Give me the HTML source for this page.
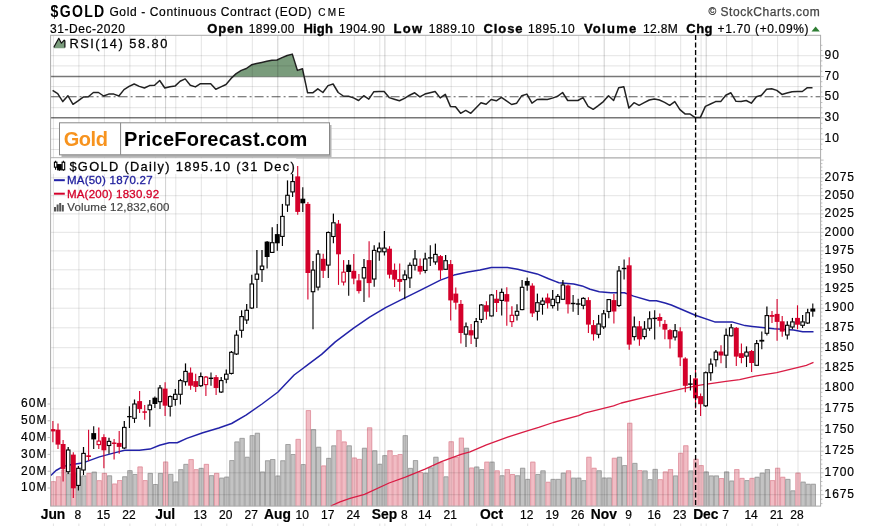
<!DOCTYPE html>
<html><head><meta charset="utf-8"><title>$GOLD</title>
<style>html,body{margin:0;padding:0;background:#fff;}body{width:875px;height:526px;overflow:hidden;position:relative;font-family:"Liberation Sans",sans-serif;}</style>
</head><body>
<svg width="875" height="526" viewBox="0 0 875 526" style="position:absolute;left:0;top:0;will-change:transform;font-family:'Liberation Sans',sans-serif">
<rect x="0" y="0" width="875" height="526" fill="#fff"/>
<defs><filter id="soft" x="-2%" y="-2%" width="104%" height="104%"><feGaussianBlur stdDeviation="0.38"/></filter></defs>
<g filter="url(#soft)">
<line x1="50.6" y1="76.6" x2="820.6" y2="76.6" stroke="#777" stroke-width="1.5"/>
<line x1="50.6" y1="117.8" x2="820.6" y2="117.8" stroke="#777" stroke-width="1.5"/>
<line x1="50.6" y1="96.7" x2="820.6" y2="96.7" stroke="#5a5a5a" stroke-width="1.1" stroke-dasharray="9,3,2,3"/>
<clipPath id="c70"><rect x="50.6" y="35.3" width="770.0" height="41.3"/></clipPath>
<polygon clip-path="url(#c70)" points="52.6,96.6 52.6,90.4 57.7,93.6 62.8,101.6 67.9,95.7 73.0,104.3 78.1,100.8 83.2,97.1 88.3,96.8 93.4,92.5 98.5,92.5 103.6,96.0 108.7,94.1 113.8,94.1 118.9,96.0 124.0,89.6 129.1,86.4 134.2,84.0 139.3,86.4 144.4,88.0 149.5,85.6 154.6,85.3 159.7,80.5 164.8,88.0 169.9,86.7 175.0,86.1 180.1,81.3 185.2,78.9 190.3,85.3 195.4,86.9 200.5,83.7 205.6,83.7 210.7,83.7 215.8,89.3 220.9,86.9 226.0,84.5 231.1,78.4 236.2,73.6 241.3,70.4 246.4,68.5 251.5,64.8 256.6,63.5 261.7,62.4 266.8,61.3 271.9,60.2 277.0,60.0 282.1,57.6 287.2,55.5 292.3,54.1 297.4,70.4 302.5,68.8 307.6,92.8 312.7,92.8 317.8,88.8 322.9,92.5 328.0,85.6 333.1,84.0 338.2,92.5 343.3,96.0 348.4,96.3 353.5,97.9 358.6,100.5 363.7,95.7 368.8,99.2 373.9,91.7 379.0,91.5 384.1,91.5 389.2,97.6 394.3,99.2 399.4,100.8 404.5,98.4 409.6,95.2 414.7,92.8 419.8,96.8 424.9,94.1 430.0,92.8 435.1,91.5 440.2,97.9 445.3,94.4 450.4,106.4 455.5,106.7 460.6,113.3 465.7,110.4 470.8,113.3 475.9,108.0 481.0,102.7 486.1,104.3 491.2,99.5 496.3,100.8 501.4,97.3 506.5,100.8 511.6,104.5 516.7,103.2 521.8,95.7 526.9,94.1 532.0,103.2 537.1,99.5 542.2,99.2 547.3,99.5 552.4,98.1 557.5,96.3 562.6,92.5 567.7,100.5 572.8,100.5 577.9,100.5 583.0,97.6 588.1,106.4 593.2,109.3 598.3,105.6 603.4,101.6 608.5,95.7 613.6,100.5 618.7,87.7 623.8,86.7 628.9,108.0 634.0,102.7 639.1,105.3 644.2,102.7 649.3,100.0 654.4,98.9 659.5,100.0 664.6,102.4 669.7,105.3 674.8,101.6 679.9,109.6 685.0,113.9 690.1,114.1 695.2,117.6 700.3,117.6 705.4,106.4 710.5,104.0 715.6,101.6 720.7,101.6 725.8,95.2 730.9,92.8 736.0,101.3 741.1,101.6 746.2,100.5 751.3,103.2 756.4,96.8 761.5,95.2 766.6,89.3 771.7,88.8 776.8,90.4 781.9,94.4 787.0,93.1 792.1,91.7 797.2,91.5 802.3,91.5 807.4,87.7 812.5,87.7 812.5,96.6" fill="#7a9c7c"/>
<polyline points="52.6,90.4 57.7,93.6 62.8,101.6 67.9,95.7 73.0,104.3 78.1,100.8 83.2,97.1 88.3,96.8 93.4,92.5 98.5,92.5 103.6,96.0 108.7,94.1 113.8,94.1 118.9,96.0 124.0,89.6 129.1,86.4 134.2,84.0 139.3,86.4 144.4,88.0 149.5,85.6 154.6,85.3 159.7,80.5 164.8,88.0 169.9,86.7 175.0,86.1 180.1,81.3 185.2,78.9 190.3,85.3 195.4,86.9 200.5,83.7 205.6,83.7 210.7,83.7 215.8,89.3 220.9,86.9 226.0,84.5 231.1,78.4 236.2,73.6 241.3,70.4 246.4,68.5 251.5,64.8 256.6,63.5 261.7,62.4 266.8,61.3 271.9,60.2 277.0,60.0 282.1,57.6 287.2,55.5 292.3,54.1 297.4,70.4 302.5,68.8 307.6,92.8 312.7,92.8 317.8,88.8 322.9,92.5 328.0,85.6 333.1,84.0 338.2,92.5 343.3,96.0 348.4,96.3 353.5,97.9 358.6,100.5 363.7,95.7 368.8,99.2 373.9,91.7 379.0,91.5 384.1,91.5 389.2,97.6 394.3,99.2 399.4,100.8 404.5,98.4 409.6,95.2 414.7,92.8 419.8,96.8 424.9,94.1 430.0,92.8 435.1,91.5 440.2,97.9 445.3,94.4 450.4,106.4 455.5,106.7 460.6,113.3 465.7,110.4 470.8,113.3 475.9,108.0 481.0,102.7 486.1,104.3 491.2,99.5 496.3,100.8 501.4,97.3 506.5,100.8 511.6,104.5 516.7,103.2 521.8,95.7 526.9,94.1 532.0,103.2 537.1,99.5 542.2,99.2 547.3,99.5 552.4,98.1 557.5,96.3 562.6,92.5 567.7,100.5 572.8,100.5 577.9,100.5 583.0,97.6 588.1,106.4 593.2,109.3 598.3,105.6 603.4,101.6 608.5,95.7 613.6,100.5 618.7,87.7 623.8,86.7 628.9,108.0 634.0,102.7 639.1,105.3 644.2,102.7 649.3,100.0 654.4,98.9 659.5,100.0 664.6,102.4 669.7,105.3 674.8,101.6 679.9,109.6 685.0,113.9 690.1,114.1 695.2,117.6 700.3,117.6 705.4,106.4 710.5,104.0 715.6,101.6 720.7,101.6 725.8,95.2 730.9,92.8 736.0,101.3 741.1,101.6 746.2,100.5 751.3,103.2 756.4,96.8 761.5,95.2 766.6,89.3 771.7,88.8 776.8,90.4 781.9,94.4 787.0,93.1 792.1,91.7 797.2,91.5 802.3,91.5 807.4,87.7 812.5,87.7" fill="none" stroke="#222" stroke-width="1.5" stroke-linejoin="round"/>
<g><rect x="50.85" y="481.2" width="5.10" height="24.9" fill="#f1bcc4"/><path d="M51.25,506.1 V481.7 H55.55 V506.1" fill="none" stroke="#e0939f" stroke-width="0.8"/><rect x="55.95" y="476.3" width="5.10" height="29.8" fill="#f1bcc4"/><path d="M56.35,506.1 V476.8 H60.65 V506.1" fill="none" stroke="#e0939f" stroke-width="0.8"/><rect x="61.05" y="469.5" width="5.10" height="36.6" fill="#f1bcc4"/><path d="M61.45,506.1 V470.0 H65.75 V506.1" fill="none" stroke="#e0939f" stroke-width="0.8"/><rect x="66.15" y="473.4" width="5.10" height="32.7" fill="#c3c3c3"/><path d="M66.55,506.1 V473.9 H70.85 V506.1" fill="none" stroke="#9a9a9a" stroke-width="0.8"/><rect x="71.25" y="472.5" width="5.10" height="33.6" fill="#f1bcc4"/><path d="M71.65,506.1 V473.0 H75.95 V506.1" fill="none" stroke="#e0939f" stroke-width="0.8"/><rect x="76.35" y="476.3" width="5.10" height="29.8" fill="#c3c3c3"/><path d="M76.75,506.1 V476.8 H81.05 V506.1" fill="none" stroke="#9a9a9a" stroke-width="0.8"/><rect x="81.45" y="475.5" width="5.10" height="30.6" fill="#c3c3c3"/><path d="M81.85,506.1 V476.0 H86.15 V506.1" fill="none" stroke="#9a9a9a" stroke-width="0.8"/><rect x="86.55" y="472.9" width="5.10" height="33.2" fill="#f1bcc4"/><path d="M86.95,506.1 V473.4 H91.25 V506.1" fill="none" stroke="#e0939f" stroke-width="0.8"/><rect x="91.65" y="471.7" width="5.10" height="34.4" fill="#c3c3c3"/><path d="M92.05,506.1 V472.2 H96.35 V506.1" fill="none" stroke="#9a9a9a" stroke-width="0.8"/><rect x="96.75" y="480.2" width="5.10" height="25.9" fill="#f1bcc4"/><path d="M97.15,506.1 V480.7 H101.45 V506.1" fill="none" stroke="#e0939f" stroke-width="0.8"/><rect x="101.85" y="472.9" width="5.10" height="33.2" fill="#f1bcc4"/><path d="M102.25,506.1 V473.4 H106.55 V506.1" fill="none" stroke="#e0939f" stroke-width="0.8"/><rect x="106.95" y="475.4" width="5.10" height="30.7" fill="#c3c3c3"/><path d="M107.35,506.1 V475.9 H111.65 V506.1" fill="none" stroke="#9a9a9a" stroke-width="0.8"/><rect x="112.05" y="483.6" width="5.10" height="22.5" fill="#f1bcc4"/><path d="M112.45,506.1 V484.1 H116.75 V506.1" fill="none" stroke="#e0939f" stroke-width="0.8"/><rect x="117.15" y="480.0" width="5.10" height="26.1" fill="#f1bcc4"/><path d="M117.55,506.1 V480.5 H121.85 V506.1" fill="none" stroke="#e0939f" stroke-width="0.8"/><rect x="122.25" y="476.3" width="5.10" height="29.8" fill="#c3c3c3"/><path d="M122.65,506.1 V476.8 H126.95 V506.1" fill="none" stroke="#9a9a9a" stroke-width="0.8"/><rect x="127.35" y="470.2" width="5.10" height="35.9" fill="#c3c3c3"/><path d="M127.75,506.1 V470.7 H132.05 V506.1" fill="none" stroke="#9a9a9a" stroke-width="0.8"/><rect x="132.45" y="474.0" width="5.10" height="32.1" fill="#c3c3c3"/><path d="M132.85,506.1 V474.5 H137.15 V506.1" fill="none" stroke="#9a9a9a" stroke-width="0.8"/><rect x="137.55" y="466.5" width="5.10" height="39.6" fill="#f1bcc4"/><path d="M137.95,506.1 V467.0 H142.25 V506.1" fill="none" stroke="#e0939f" stroke-width="0.8"/><rect x="142.65" y="480.1" width="5.10" height="26.0" fill="#f1bcc4"/><path d="M143.05,506.1 V480.6 H147.35 V506.1" fill="none" stroke="#e0939f" stroke-width="0.8"/><rect x="147.75" y="472.9" width="5.10" height="33.2" fill="#c3c3c3"/><path d="M148.15,506.1 V473.4 H152.45 V506.1" fill="none" stroke="#9a9a9a" stroke-width="0.8"/><rect x="152.85" y="484.0" width="5.10" height="22.1" fill="#c3c3c3"/><path d="M153.25,506.1 V484.5 H157.55 V506.1" fill="none" stroke="#9a9a9a" stroke-width="0.8"/><rect x="157.95" y="472.9" width="5.10" height="33.2" fill="#c3c3c3"/><path d="M158.35,506.1 V473.4 H162.65 V506.1" fill="none" stroke="#9a9a9a" stroke-width="0.8"/><rect x="163.05" y="461.6" width="5.10" height="44.5" fill="#f1bcc4"/><path d="M163.45,506.1 V462.1 H167.75 V506.1" fill="none" stroke="#e0939f" stroke-width="0.8"/><rect x="168.15" y="473.9" width="5.10" height="32.2" fill="#c3c3c3"/><path d="M168.55,506.1 V474.4 H172.85 V506.1" fill="none" stroke="#9a9a9a" stroke-width="0.8"/><rect x="173.25" y="481.5" width="5.10" height="24.6" fill="#c3c3c3"/><path d="M173.65,506.1 V482.0 H177.95 V506.1" fill="none" stroke="#9a9a9a" stroke-width="0.8"/><rect x="178.35" y="469.2" width="5.10" height="36.9" fill="#c3c3c3"/><path d="M178.75,506.1 V469.7 H183.05 V506.1" fill="none" stroke="#9a9a9a" stroke-width="0.8"/><rect x="183.45" y="463.9" width="5.10" height="42.2" fill="#c3c3c3"/><path d="M183.85,506.1 V464.4 H188.15 V506.1" fill="none" stroke="#9a9a9a" stroke-width="0.8"/><rect x="188.55" y="459.1" width="5.10" height="47.0" fill="#f1bcc4"/><path d="M188.95,506.1 V459.6 H193.25 V506.1" fill="none" stroke="#e0939f" stroke-width="0.8"/><rect x="193.65" y="469.2" width="5.10" height="36.9" fill="#f1bcc4"/><path d="M194.05,506.1 V469.7 H198.35 V506.1" fill="none" stroke="#e0939f" stroke-width="0.8"/><rect x="198.75" y="467.9" width="5.10" height="38.2" fill="#c3c3c3"/><path d="M199.15,506.1 V468.4 H203.45 V506.1" fill="none" stroke="#9a9a9a" stroke-width="0.8"/><rect x="203.85" y="463.9" width="5.10" height="42.2" fill="#f1bcc4"/><path d="M204.25,506.1 V464.4 H208.55 V506.1" fill="none" stroke="#e0939f" stroke-width="0.8"/><rect x="208.95" y="475.2" width="5.10" height="30.9" fill="#c3c3c3"/><path d="M209.35,506.1 V475.7 H213.65 V506.1" fill="none" stroke="#9a9a9a" stroke-width="0.8"/><rect x="214.05" y="472.9" width="5.10" height="33.2" fill="#f1bcc4"/><path d="M214.45,506.1 V473.4 H218.75 V506.1" fill="none" stroke="#e0939f" stroke-width="0.8"/><rect x="219.15" y="477.7" width="5.10" height="28.4" fill="#c3c3c3"/><path d="M219.55,506.1 V478.2 H223.85 V506.1" fill="none" stroke="#9a9a9a" stroke-width="0.8"/><rect x="224.25" y="476.7" width="5.10" height="29.4" fill="#c3c3c3"/><path d="M224.65,506.1 V477.2 H228.95 V506.1" fill="none" stroke="#9a9a9a" stroke-width="0.8"/><rect x="229.35" y="460.1" width="5.10" height="46.0" fill="#c3c3c3"/><path d="M229.75,506.1 V460.6 H234.05 V506.1" fill="none" stroke="#9a9a9a" stroke-width="0.8"/><rect x="234.45" y="441.5" width="5.10" height="64.6" fill="#c3c3c3"/><path d="M234.85,506.1 V442.0 H239.15 V506.1" fill="none" stroke="#9a9a9a" stroke-width="0.8"/><rect x="239.55" y="437.9" width="5.10" height="68.2" fill="#c3c3c3"/><path d="M239.95,506.1 V438.4 H244.25 V506.1" fill="none" stroke="#9a9a9a" stroke-width="0.8"/><rect x="244.65" y="456.8" width="5.10" height="49.3" fill="#c3c3c3"/><path d="M245.05,506.1 V457.3 H249.35 V506.1" fill="none" stroke="#9a9a9a" stroke-width="0.8"/><rect x="249.75" y="435.2" width="5.10" height="70.9" fill="#c3c3c3"/><path d="M250.15,506.1 V435.7 H254.45 V506.1" fill="none" stroke="#9a9a9a" stroke-width="0.8"/><rect x="254.85" y="432.8" width="5.10" height="73.3" fill="#c3c3c3"/><path d="M255.25,506.1 V433.3 H259.55 V506.1" fill="none" stroke="#9a9a9a" stroke-width="0.8"/><rect x="259.95" y="471.6" width="5.10" height="34.5" fill="#c3c3c3"/><path d="M260.35,506.1 V472.1 H264.65 V506.1" fill="none" stroke="#9a9a9a" stroke-width="0.8"/><rect x="265.05" y="460.3" width="5.10" height="45.8" fill="#c3c3c3"/><path d="M265.45,506.1 V460.8 H269.75 V506.1" fill="none" stroke="#9a9a9a" stroke-width="0.8"/><rect x="270.15" y="459.0" width="5.10" height="47.1" fill="#c3c3c3"/><path d="M270.55,506.1 V459.5 H274.85 V506.1" fill="none" stroke="#9a9a9a" stroke-width="0.8"/><rect x="275.25" y="475.6" width="5.10" height="30.5" fill="#c3c3c3"/><path d="M275.65,506.1 V476.1 H279.95 V506.1" fill="none" stroke="#9a9a9a" stroke-width="0.8"/><rect x="280.35" y="460.3" width="5.10" height="45.8" fill="#c3c3c3"/><path d="M280.75,506.1 V460.8 H285.05 V506.1" fill="none" stroke="#9a9a9a" stroke-width="0.8"/><rect x="285.45" y="444.0" width="5.10" height="62.1" fill="#c3c3c3"/><path d="M285.85,506.1 V444.5 H290.15 V506.1" fill="none" stroke="#9a9a9a" stroke-width="0.8"/><rect x="290.55" y="454.0" width="5.10" height="52.1" fill="#c3c3c3"/><path d="M290.95,506.1 V454.5 H295.25 V506.1" fill="none" stroke="#9a9a9a" stroke-width="0.8"/><rect x="295.65" y="438.9" width="5.10" height="67.2" fill="#f1bcc4"/><path d="M296.05,506.1 V439.4 H300.35 V506.1" fill="none" stroke="#e0939f" stroke-width="0.8"/><rect x="300.75" y="464.1" width="5.10" height="42.0" fill="#c3c3c3"/><path d="M301.15,506.1 V464.6 H305.45 V506.1" fill="none" stroke="#9a9a9a" stroke-width="0.8"/><rect x="305.85" y="410.1" width="5.10" height="96.0" fill="#f1bcc4"/><path d="M306.25,506.1 V410.6 H310.55 V506.1" fill="none" stroke="#e0939f" stroke-width="0.8"/><rect x="310.95" y="429.2" width="5.10" height="76.9" fill="#c3c3c3"/><path d="M311.35,506.1 V429.7 H315.65 V506.1" fill="none" stroke="#9a9a9a" stroke-width="0.8"/><rect x="316.05" y="446.8" width="5.10" height="59.3" fill="#c3c3c3"/><path d="M316.45,506.1 V447.3 H320.75 V506.1" fill="none" stroke="#9a9a9a" stroke-width="0.8"/><rect x="321.15" y="465.5" width="5.10" height="40.6" fill="#f1bcc4"/><path d="M321.55,506.1 V466.0 H325.85 V506.1" fill="none" stroke="#e0939f" stroke-width="0.8"/><rect x="326.25" y="457.9" width="5.10" height="48.2" fill="#c3c3c3"/><path d="M326.65,506.1 V458.4 H330.95 V506.1" fill="none" stroke="#9a9a9a" stroke-width="0.8"/><rect x="331.35" y="445.4" width="5.10" height="60.7" fill="#c3c3c3"/><path d="M331.75,506.1 V445.9 H336.05 V506.1" fill="none" stroke="#9a9a9a" stroke-width="0.8"/><rect x="336.45" y="430.2" width="5.10" height="75.9" fill="#f1bcc4"/><path d="M336.85,506.1 V430.7 H341.15 V506.1" fill="none" stroke="#e0939f" stroke-width="0.8"/><rect x="341.55" y="441.5" width="5.10" height="64.6" fill="#f1bcc4"/><path d="M341.95,506.1 V442.0 H346.25 V506.1" fill="none" stroke="#e0939f" stroke-width="0.8"/><rect x="346.65" y="445.4" width="5.10" height="60.7" fill="#c3c3c3"/><path d="M347.05,506.1 V445.9 H351.35 V506.1" fill="none" stroke="#9a9a9a" stroke-width="0.8"/><rect x="351.75" y="457.6" width="5.10" height="48.5" fill="#f1bcc4"/><path d="M352.15,506.1 V458.1 H356.45 V506.1" fill="none" stroke="#e0939f" stroke-width="0.8"/><rect x="356.85" y="458.9" width="5.10" height="47.2" fill="#f1bcc4"/><path d="M357.25,506.1 V459.4 H361.55 V506.1" fill="none" stroke="#e0939f" stroke-width="0.8"/><rect x="361.95" y="447.8" width="5.10" height="58.3" fill="#c3c3c3"/><path d="M362.35,506.1 V448.3 H366.65 V506.1" fill="none" stroke="#9a9a9a" stroke-width="0.8"/><rect x="367.05" y="427.4" width="5.10" height="78.7" fill="#f1bcc4"/><path d="M367.45,506.1 V427.9 H371.75 V506.1" fill="none" stroke="#e0939f" stroke-width="0.8"/><rect x="372.15" y="450.3" width="5.10" height="55.8" fill="#c3c3c3"/><path d="M372.55,506.1 V450.8 H376.85 V506.1" fill="none" stroke="#9a9a9a" stroke-width="0.8"/><rect x="377.25" y="463.8" width="5.10" height="42.3" fill="#c3c3c3"/><path d="M377.65,506.1 V464.3 H381.95 V506.1" fill="none" stroke="#9a9a9a" stroke-width="0.8"/><rect x="382.35" y="455.2" width="5.10" height="50.9" fill="#c3c3c3"/><path d="M382.75,506.1 V455.7 H387.05 V506.1" fill="none" stroke="#9a9a9a" stroke-width="0.8"/><rect x="387.45" y="450.3" width="5.10" height="55.8" fill="#f1bcc4"/><path d="M387.85,506.1 V450.8 H392.15 V506.1" fill="none" stroke="#e0939f" stroke-width="0.8"/><rect x="392.55" y="455.2" width="5.10" height="50.9" fill="#f1bcc4"/><path d="M392.95,506.1 V455.7 H397.25 V506.1" fill="none" stroke="#e0939f" stroke-width="0.8"/><rect x="397.65" y="454.0" width="5.10" height="52.1" fill="#f1bcc4"/><path d="M398.05,506.1 V454.5 H402.35 V506.1" fill="none" stroke="#e0939f" stroke-width="0.8"/><rect x="402.75" y="435.2" width="5.10" height="70.9" fill="#c3c3c3"/><path d="M403.15,506.1 V435.7 H407.45 V506.1" fill="none" stroke="#9a9a9a" stroke-width="0.8"/><rect x="407.85" y="467.9" width="5.10" height="38.2" fill="#c3c3c3"/><path d="M408.25,506.1 V468.4 H412.55 V506.1" fill="none" stroke="#9a9a9a" stroke-width="0.8"/><rect x="412.95" y="460.1" width="5.10" height="46.0" fill="#c3c3c3"/><path d="M413.35,506.1 V460.6 H417.65 V506.1" fill="none" stroke="#9a9a9a" stroke-width="0.8"/><rect x="418.05" y="472.0" width="5.10" height="34.1" fill="#f1bcc4"/><path d="M418.45,506.1 V472.5 H422.75 V506.1" fill="none" stroke="#e0939f" stroke-width="0.8"/><rect x="423.15" y="472.7" width="5.10" height="33.4" fill="#c3c3c3"/><path d="M423.55,506.1 V473.2 H427.85 V506.1" fill="none" stroke="#9a9a9a" stroke-width="0.8"/><rect x="428.25" y="467.4" width="5.10" height="38.7" fill="#c3c3c3"/><path d="M428.65,506.1 V467.9 H432.95 V506.1" fill="none" stroke="#9a9a9a" stroke-width="0.8"/><rect x="433.35" y="456.8" width="5.10" height="49.3" fill="#c3c3c3"/><path d="M433.75,506.1 V457.3 H438.05 V506.1" fill="none" stroke="#9a9a9a" stroke-width="0.8"/><rect x="438.45" y="462.2" width="5.10" height="43.9" fill="#f1bcc4"/><path d="M438.85,506.1 V462.7 H443.15 V506.1" fill="none" stroke="#e0939f" stroke-width="0.8"/><rect x="443.55" y="476.4" width="5.10" height="29.7" fill="#c3c3c3"/><path d="M443.95,506.1 V476.9 H448.25 V506.1" fill="none" stroke="#9a9a9a" stroke-width="0.8"/><rect x="448.65" y="441.3" width="5.10" height="64.8" fill="#f1bcc4"/><path d="M449.05,506.1 V441.8 H453.35 V506.1" fill="none" stroke="#e0939f" stroke-width="0.8"/><rect x="453.75" y="456.8" width="5.10" height="49.3" fill="#f1bcc4"/><path d="M454.15,506.1 V457.3 H458.45 V506.1" fill="none" stroke="#e0939f" stroke-width="0.8"/><rect x="458.85" y="437.7" width="5.10" height="68.4" fill="#f1bcc4"/><path d="M459.25,506.1 V438.2 H463.55 V506.1" fill="none" stroke="#e0939f" stroke-width="0.8"/><rect x="463.95" y="447.8" width="5.10" height="58.3" fill="#c3c3c3"/><path d="M464.35,506.1 V448.3 H468.65 V506.1" fill="none" stroke="#9a9a9a" stroke-width="0.8"/><rect x="469.05" y="467.6" width="5.10" height="38.5" fill="#f1bcc4"/><path d="M469.45,506.1 V468.1 H473.75 V506.1" fill="none" stroke="#e0939f" stroke-width="0.8"/><rect x="474.15" y="466.6" width="5.10" height="39.5" fill="#c3c3c3"/><path d="M474.55,506.1 V467.1 H478.85 V506.1" fill="none" stroke="#9a9a9a" stroke-width="0.8"/><rect x="479.25" y="469.1" width="5.10" height="37.0" fill="#c3c3c3"/><path d="M479.65,506.1 V469.6 H483.95 V506.1" fill="none" stroke="#9a9a9a" stroke-width="0.8"/><rect x="484.35" y="461.7" width="5.10" height="44.4" fill="#f1bcc4"/><path d="M484.75,506.1 V462.2 H489.05 V506.1" fill="none" stroke="#e0939f" stroke-width="0.8"/><rect x="489.45" y="461.7" width="5.10" height="44.4" fill="#c3c3c3"/><path d="M489.85,506.1 V462.2 H494.15 V506.1" fill="none" stroke="#9a9a9a" stroke-width="0.8"/><rect x="494.55" y="470.4" width="5.10" height="35.7" fill="#f1bcc4"/><path d="M494.95,506.1 V470.9 H499.25 V506.1" fill="none" stroke="#e0939f" stroke-width="0.8"/><rect x="499.65" y="475.3" width="5.10" height="30.8" fill="#c3c3c3"/><path d="M500.05,506.1 V475.8 H504.35 V506.1" fill="none" stroke="#9a9a9a" stroke-width="0.8"/><rect x="504.75" y="469.1" width="5.10" height="37.0" fill="#f1bcc4"/><path d="M505.15,506.1 V469.6 H509.45 V506.1" fill="none" stroke="#e0939f" stroke-width="0.8"/><rect x="509.85" y="474.0" width="5.10" height="32.1" fill="#f1bcc4"/><path d="M510.25,506.1 V474.5 H514.55 V506.1" fill="none" stroke="#e0939f" stroke-width="0.8"/><rect x="514.95" y="475.3" width="5.10" height="30.8" fill="#c3c3c3"/><path d="M515.35,506.1 V475.8 H519.65 V506.1" fill="none" stroke="#9a9a9a" stroke-width="0.8"/><rect x="520.05" y="467.8" width="5.10" height="38.3" fill="#c3c3c3"/><path d="M520.45,506.1 V468.3 H524.75 V506.1" fill="none" stroke="#9a9a9a" stroke-width="0.8"/><rect x="525.15" y="478.9" width="5.10" height="27.2" fill="#c3c3c3"/><path d="M525.55,506.1 V479.4 H529.85 V506.1" fill="none" stroke="#9a9a9a" stroke-width="0.8"/><rect x="530.25" y="461.7" width="5.10" height="44.4" fill="#f1bcc4"/><path d="M530.65,506.1 V462.2 H534.95 V506.1" fill="none" stroke="#e0939f" stroke-width="0.8"/><rect x="535.35" y="474.0" width="5.10" height="32.1" fill="#c3c3c3"/><path d="M535.75,506.1 V474.5 H540.05 V506.1" fill="none" stroke="#9a9a9a" stroke-width="0.8"/><rect x="540.45" y="470.4" width="5.10" height="35.7" fill="#c3c3c3"/><path d="M540.85,506.1 V470.9 H545.15 V506.1" fill="none" stroke="#9a9a9a" stroke-width="0.8"/><rect x="545.55" y="481.8" width="5.10" height="24.3" fill="#f1bcc4"/><path d="M545.95,506.1 V482.3 H550.25 V506.1" fill="none" stroke="#e0939f" stroke-width="0.8"/><rect x="550.65" y="478.9" width="5.10" height="27.2" fill="#c3c3c3"/><path d="M551.05,506.1 V479.4 H555.35 V506.1" fill="none" stroke="#9a9a9a" stroke-width="0.8"/><rect x="555.75" y="478.9" width="5.10" height="27.2" fill="#c3c3c3"/><path d="M556.15,506.1 V479.4 H560.45 V506.1" fill="none" stroke="#9a9a9a" stroke-width="0.8"/><rect x="560.85" y="472.7" width="5.10" height="33.4" fill="#c3c3c3"/><path d="M561.25,506.1 V473.2 H565.55 V506.1" fill="none" stroke="#9a9a9a" stroke-width="0.8"/><rect x="565.95" y="470.4" width="5.10" height="35.7" fill="#f1bcc4"/><path d="M566.35,506.1 V470.9 H570.65 V506.1" fill="none" stroke="#e0939f" stroke-width="0.8"/><rect x="571.05" y="477.7" width="5.10" height="28.4" fill="#c3c3c3"/><path d="M571.45,506.1 V478.2 H575.75 V506.1" fill="none" stroke="#9a9a9a" stroke-width="0.8"/><rect x="576.15" y="477.7" width="5.10" height="28.4" fill="#c3c3c3"/><path d="M576.55,506.1 V478.2 H580.85 V506.1" fill="none" stroke="#9a9a9a" stroke-width="0.8"/><rect x="581.25" y="480.2" width="5.10" height="25.9" fill="#c3c3c3"/><path d="M581.65,506.1 V480.7 H585.95 V506.1" fill="none" stroke="#9a9a9a" stroke-width="0.8"/><rect x="586.35" y="456.8" width="5.10" height="49.3" fill="#f1bcc4"/><path d="M586.75,506.1 V457.3 H591.05 V506.1" fill="none" stroke="#e0939f" stroke-width="0.8"/><rect x="591.45" y="467.8" width="5.10" height="38.3" fill="#f1bcc4"/><path d="M591.85,506.1 V468.3 H596.15 V506.1" fill="none" stroke="#e0939f" stroke-width="0.8"/><rect x="596.55" y="470.3" width="5.10" height="35.8" fill="#c3c3c3"/><path d="M596.95,506.1 V470.8 H601.25 V506.1" fill="none" stroke="#9a9a9a" stroke-width="0.8"/><rect x="601.65" y="477.6" width="5.10" height="28.5" fill="#c3c3c3"/><path d="M602.05,506.1 V478.1 H606.35 V506.1" fill="none" stroke="#9a9a9a" stroke-width="0.8"/><rect x="606.75" y="477.6" width="5.10" height="28.5" fill="#c3c3c3"/><path d="M607.15,506.1 V478.1 H611.45 V506.1" fill="none" stroke="#9a9a9a" stroke-width="0.8"/><rect x="611.85" y="457.8" width="5.10" height="48.3" fill="#f1bcc4"/><path d="M612.25,506.1 V458.3 H616.55 V506.1" fill="none" stroke="#e0939f" stroke-width="0.8"/><rect x="616.95" y="456.8" width="5.10" height="49.3" fill="#c3c3c3"/><path d="M617.35,506.1 V457.3 H621.65 V506.1" fill="none" stroke="#9a9a9a" stroke-width="0.8"/><rect x="622.05" y="465.1" width="5.10" height="41.0" fill="#c3c3c3"/><path d="M622.45,506.1 V465.6 H626.75 V506.1" fill="none" stroke="#9a9a9a" stroke-width="0.8"/><rect x="627.15" y="422.8" width="5.10" height="83.3" fill="#f1bcc4"/><path d="M627.55,506.1 V423.3 H631.85 V506.1" fill="none" stroke="#e0939f" stroke-width="0.8"/><rect x="632.25" y="462.9" width="5.10" height="43.2" fill="#c3c3c3"/><path d="M632.65,506.1 V463.4 H636.95 V506.1" fill="none" stroke="#9a9a9a" stroke-width="0.8"/><rect x="637.35" y="470.1" width="5.10" height="36.0" fill="#f1bcc4"/><path d="M637.75,506.1 V470.6 H642.05 V506.1" fill="none" stroke="#e0939f" stroke-width="0.8"/><rect x="642.45" y="470.5" width="5.10" height="35.6" fill="#c3c3c3"/><path d="M642.85,506.1 V471.0 H647.15 V506.1" fill="none" stroke="#9a9a9a" stroke-width="0.8"/><rect x="647.55" y="479.2" width="5.10" height="26.9" fill="#c3c3c3"/><path d="M647.95,506.1 V479.7 H652.25 V506.1" fill="none" stroke="#9a9a9a" stroke-width="0.8"/><rect x="652.65" y="468.9" width="5.10" height="37.2" fill="#c3c3c3"/><path d="M653.05,506.1 V469.4 H657.35 V506.1" fill="none" stroke="#9a9a9a" stroke-width="0.8"/><rect x="657.75" y="479.2" width="5.10" height="26.9" fill="#f1bcc4"/><path d="M658.15,506.1 V479.7 H662.45 V506.1" fill="none" stroke="#e0939f" stroke-width="0.8"/><rect x="662.85" y="471.5" width="5.10" height="34.6" fill="#f1bcc4"/><path d="M663.25,506.1 V472.0 H667.55 V506.1" fill="none" stroke="#e0939f" stroke-width="0.8"/><rect x="667.95" y="469.1" width="5.10" height="37.0" fill="#f1bcc4"/><path d="M668.35,506.1 V469.6 H672.65 V506.1" fill="none" stroke="#e0939f" stroke-width="0.8"/><rect x="673.05" y="475.5" width="5.10" height="30.6" fill="#c3c3c3"/><path d="M673.45,506.1 V476.0 H677.75 V506.1" fill="none" stroke="#9a9a9a" stroke-width="0.8"/><rect x="678.15" y="452.8" width="5.10" height="53.3" fill="#f1bcc4"/><path d="M678.55,506.1 V453.3 H682.85 V506.1" fill="none" stroke="#e0939f" stroke-width="0.8"/><rect x="683.25" y="445.3" width="5.10" height="60.8" fill="#f1bcc4"/><path d="M683.65,506.1 V445.8 H687.95 V506.1" fill="none" stroke="#e0939f" stroke-width="0.8"/><rect x="688.35" y="470.5" width="5.10" height="35.6" fill="#c3c3c3"/><path d="M688.75,506.1 V471.0 H693.05 V506.1" fill="none" stroke="#9a9a9a" stroke-width="0.8"/><rect x="693.45" y="458.8" width="5.10" height="47.3" fill="#f1bcc4"/><path d="M693.85,506.1 V459.3 H698.15 V506.1" fill="none" stroke="#e0939f" stroke-width="0.8"/><rect x="698.55" y="465.1" width="5.10" height="41.0" fill="#f1bcc4"/><path d="M698.95,506.1 V465.6 H703.25 V506.1" fill="none" stroke="#e0939f" stroke-width="0.8"/><rect x="703.65" y="471.5" width="5.10" height="34.6" fill="#c3c3c3"/><path d="M704.05,506.1 V472.0 H708.35 V506.1" fill="none" stroke="#9a9a9a" stroke-width="0.8"/><rect x="708.75" y="475.5" width="5.10" height="30.6" fill="#c3c3c3"/><path d="M709.15,506.1 V476.0 H713.45 V506.1" fill="none" stroke="#9a9a9a" stroke-width="0.8"/><rect x="713.85" y="475.5" width="5.10" height="30.6" fill="#c3c3c3"/><path d="M714.25,506.1 V476.0 H718.55 V506.1" fill="none" stroke="#9a9a9a" stroke-width="0.8"/><rect x="718.95" y="478.0" width="5.10" height="28.1" fill="#f1bcc4"/><path d="M719.35,506.1 V478.5 H723.65 V506.1" fill="none" stroke="#e0939f" stroke-width="0.8"/><rect x="724.05" y="471.5" width="5.10" height="34.6" fill="#c3c3c3"/><path d="M724.45,506.1 V472.0 H728.75 V506.1" fill="none" stroke="#9a9a9a" stroke-width="0.8"/><rect x="729.15" y="480.6" width="5.10" height="25.5" fill="#c3c3c3"/><path d="M729.55,506.1 V481.1 H733.85 V506.1" fill="none" stroke="#9a9a9a" stroke-width="0.8"/><rect x="734.25" y="469.1" width="5.10" height="37.0" fill="#f1bcc4"/><path d="M734.65,506.1 V469.6 H738.95 V506.1" fill="none" stroke="#e0939f" stroke-width="0.8"/><rect x="739.35" y="477.9" width="5.10" height="28.2" fill="#f1bcc4"/><path d="M739.75,506.1 V478.4 H744.05 V506.1" fill="none" stroke="#e0939f" stroke-width="0.8"/><rect x="744.45" y="480.1" width="5.10" height="26.0" fill="#c3c3c3"/><path d="M744.85,506.1 V480.6 H749.15 V506.1" fill="none" stroke="#9a9a9a" stroke-width="0.8"/><rect x="749.55" y="477.9" width="5.10" height="28.2" fill="#f1bcc4"/><path d="M749.95,506.1 V478.4 H754.25 V506.1" fill="none" stroke="#e0939f" stroke-width="0.8"/><rect x="754.65" y="476.8" width="5.10" height="29.3" fill="#c3c3c3"/><path d="M755.05,506.1 V477.3 H759.35 V506.1" fill="none" stroke="#9a9a9a" stroke-width="0.8"/><rect x="759.75" y="472.7" width="5.10" height="33.4" fill="#c3c3c3"/><path d="M760.15,506.1 V473.2 H764.45 V506.1" fill="none" stroke="#9a9a9a" stroke-width="0.8"/><rect x="764.85" y="469.1" width="5.10" height="37.0" fill="#c3c3c3"/><path d="M765.25,506.1 V469.6 H769.55 V506.1" fill="none" stroke="#9a9a9a" stroke-width="0.8"/><rect x="769.95" y="480.1" width="5.10" height="26.0" fill="#f1bcc4"/><path d="M770.35,506.1 V480.6 H774.65 V506.1" fill="none" stroke="#e0939f" stroke-width="0.8"/><rect x="775.05" y="467.8" width="5.10" height="38.3" fill="#f1bcc4"/><path d="M775.45,506.1 V468.3 H779.75 V506.1" fill="none" stroke="#e0939f" stroke-width="0.8"/><rect x="780.15" y="476.8" width="5.10" height="29.3" fill="#f1bcc4"/><path d="M780.55,506.1 V477.3 H784.85 V506.1" fill="none" stroke="#e0939f" stroke-width="0.8"/><rect x="785.25" y="478.9" width="5.10" height="27.2" fill="#c3c3c3"/><path d="M785.65,506.1 V479.4 H789.95 V506.1" fill="none" stroke="#9a9a9a" stroke-width="0.8"/><rect x="790.35" y="490.4" width="5.10" height="15.7" fill="#c3c3c3"/><path d="M790.75,506.1 V490.9 H795.05 V506.1" fill="none" stroke="#9a9a9a" stroke-width="0.8"/><rect x="795.45" y="472.7" width="5.10" height="33.4" fill="#f1bcc4"/><path d="M795.85,506.1 V473.2 H800.15 V506.1" fill="none" stroke="#e0939f" stroke-width="0.8"/><rect x="800.55" y="481.7" width="5.10" height="24.4" fill="#c3c3c3"/><path d="M800.95,506.1 V482.2 H805.25 V506.1" fill="none" stroke="#9a9a9a" stroke-width="0.8"/><rect x="805.65" y="483.8" width="5.10" height="22.3" fill="#c3c3c3"/><path d="M806.05,506.1 V484.3 H810.35 V506.1" fill="none" stroke="#9a9a9a" stroke-width="0.8"/><rect x="810.75" y="483.8" width="5.10" height="22.3" fill="#c3c3c3"/><path d="M811.15,506.1 V484.3 H815.45 V506.1" fill="none" stroke="#9a9a9a" stroke-width="0.8"/></g>
<g><line x1="53.4" y1="35.3" x2="53.4" y2="506.1" stroke="rgba(0,0,0,0.11)" stroke-width="1"/><line x1="78.9" y1="35.3" x2="78.9" y2="506.1" stroke="rgba(0,0,0,0.11)" stroke-width="1"/><line x1="104.4" y1="35.3" x2="104.4" y2="506.1" stroke="rgba(0,0,0,0.11)" stroke-width="1"/><line x1="129.9" y1="35.3" x2="129.9" y2="506.1" stroke="rgba(0,0,0,0.11)" stroke-width="1"/><line x1="155.4" y1="35.3" x2="155.4" y2="506.1" stroke="rgba(0,0,0,0.11)" stroke-width="1"/><line x1="165.6" y1="35.3" x2="165.6" y2="506.1" stroke="rgba(0,0,0,0.19)" stroke-width="1"/><line x1="175.8" y1="35.3" x2="175.8" y2="506.1" stroke="rgba(0,0,0,0.11)" stroke-width="1"/><line x1="201.3" y1="35.3" x2="201.3" y2="506.1" stroke="rgba(0,0,0,0.11)" stroke-width="1"/><line x1="226.8" y1="35.3" x2="226.8" y2="506.1" stroke="rgba(0,0,0,0.11)" stroke-width="1"/><line x1="252.3" y1="35.3" x2="252.3" y2="506.1" stroke="rgba(0,0,0,0.11)" stroke-width="1"/><line x1="277.8" y1="35.3" x2="277.8" y2="506.1" stroke="rgba(0,0,0,0.19)" stroke-width="1"/><line x1="303.3" y1="35.3" x2="303.3" y2="506.1" stroke="rgba(0,0,0,0.11)" stroke-width="1"/><line x1="328.8" y1="35.3" x2="328.8" y2="506.1" stroke="rgba(0,0,0,0.11)" stroke-width="1"/><line x1="354.3" y1="35.3" x2="354.3" y2="506.1" stroke="rgba(0,0,0,0.11)" stroke-width="1"/><line x1="379.8" y1="35.3" x2="379.8" y2="506.1" stroke="rgba(0,0,0,0.11)" stroke-width="1"/><line x1="384.9" y1="35.3" x2="384.9" y2="506.1" stroke="rgba(0,0,0,0.19)" stroke-width="1"/><line x1="405.3" y1="35.3" x2="405.3" y2="506.1" stroke="rgba(0,0,0,0.11)" stroke-width="1"/><line x1="425.7" y1="35.3" x2="425.7" y2="506.1" stroke="rgba(0,0,0,0.11)" stroke-width="1"/><line x1="451.2" y1="35.3" x2="451.2" y2="506.1" stroke="rgba(0,0,0,0.11)" stroke-width="1"/><line x1="476.7" y1="35.3" x2="476.7" y2="506.1" stroke="rgba(0,0,0,0.11)" stroke-width="1"/><line x1="492.0" y1="35.3" x2="492.0" y2="506.1" stroke="rgba(0,0,0,0.19)" stroke-width="1"/><line x1="502.2" y1="35.3" x2="502.2" y2="506.1" stroke="rgba(0,0,0,0.11)" stroke-width="1"/><line x1="527.7" y1="35.3" x2="527.7" y2="506.1" stroke="rgba(0,0,0,0.11)" stroke-width="1"/><line x1="553.2" y1="35.3" x2="553.2" y2="506.1" stroke="rgba(0,0,0,0.11)" stroke-width="1"/><line x1="578.7" y1="35.3" x2="578.7" y2="506.1" stroke="rgba(0,0,0,0.11)" stroke-width="1"/><line x1="604.2" y1="35.3" x2="604.2" y2="506.1" stroke="rgba(0,0,0,0.19)" stroke-width="1"/><line x1="629.7" y1="35.3" x2="629.7" y2="506.1" stroke="rgba(0,0,0,0.11)" stroke-width="1"/><line x1="655.2" y1="35.3" x2="655.2" y2="506.1" stroke="rgba(0,0,0,0.11)" stroke-width="1"/><line x1="680.7" y1="35.3" x2="680.7" y2="506.1" stroke="rgba(0,0,0,0.11)" stroke-width="1"/><line x1="701.1" y1="35.3" x2="701.1" y2="506.1" stroke="rgba(0,0,0,0.11)" stroke-width="1"/><line x1="706.2" y1="35.3" x2="706.2" y2="506.1" stroke="rgba(0,0,0,0.19)" stroke-width="1"/><line x1="726.6" y1="35.3" x2="726.6" y2="506.1" stroke="rgba(0,0,0,0.11)" stroke-width="1"/><line x1="752.1" y1="35.3" x2="752.1" y2="506.1" stroke="rgba(0,0,0,0.11)" stroke-width="1"/><line x1="777.6" y1="35.3" x2="777.6" y2="506.1" stroke="rgba(0,0,0,0.11)" stroke-width="1"/><line x1="798.0" y1="35.3" x2="798.0" y2="506.1" stroke="rgba(0,0,0,0.11)" stroke-width="1"/><line x1="50.6" y1="149.5" x2="820.6" y2="149.5" stroke="rgba(0,0,0,0.11)" stroke-width="1"/><line x1="50.6" y1="139.2" x2="820.6" y2="139.2" stroke="rgba(0,0,0,0.11)" stroke-width="1"/><line x1="50.6" y1="128.6" x2="820.6" y2="128.6" stroke="rgba(0,0,0,0.11)" stroke-width="1"/><line x1="50.6" y1="107.7" x2="820.6" y2="107.7" stroke="rgba(0,0,0,0.11)" stroke-width="1"/><line x1="50.6" y1="86.6" x2="820.6" y2="86.6" stroke="rgba(0,0,0,0.11)" stroke-width="1"/><line x1="50.6" y1="65.9" x2="820.6" y2="65.9" stroke="rgba(0,0,0,0.11)" stroke-width="1"/><line x1="50.6" y1="55.7" x2="820.6" y2="55.7" stroke="rgba(0,0,0,0.11)" stroke-width="1"/><line x1="50.6" y1="494.7" x2="820.6" y2="494.7" stroke="rgba(0,0,0,0.11)" stroke-width="1"/><line x1="50.6" y1="472.8" x2="820.6" y2="472.8" stroke="rgba(0,0,0,0.11)" stroke-width="1"/><line x1="50.6" y1="451.2" x2="820.6" y2="451.2" stroke="rgba(0,0,0,0.11)" stroke-width="1"/><line x1="50.6" y1="429.9" x2="820.6" y2="429.9" stroke="rgba(0,0,0,0.11)" stroke-width="1"/><line x1="50.6" y1="408.9" x2="820.6" y2="408.9" stroke="rgba(0,0,0,0.11)" stroke-width="1"/><line x1="50.6" y1="388.2" x2="820.6" y2="388.2" stroke="rgba(0,0,0,0.11)" stroke-width="1"/><line x1="50.6" y1="367.8" x2="820.6" y2="367.8" stroke="rgba(0,0,0,0.11)" stroke-width="1"/><line x1="50.6" y1="347.7" x2="820.6" y2="347.7" stroke="rgba(0,0,0,0.11)" stroke-width="1"/><line x1="50.6" y1="327.8" x2="820.6" y2="327.8" stroke="rgba(0,0,0,0.11)" stroke-width="1"/><line x1="50.6" y1="308.2" x2="820.6" y2="308.2" stroke="rgba(0,0,0,0.11)" stroke-width="1"/><line x1="50.6" y1="288.9" x2="820.6" y2="288.9" stroke="rgba(0,0,0,0.11)" stroke-width="1"/><line x1="50.6" y1="269.8" x2="820.6" y2="269.8" stroke="rgba(0,0,0,0.11)" stroke-width="1"/><line x1="50.6" y1="250.9" x2="820.6" y2="250.9" stroke="rgba(0,0,0,0.11)" stroke-width="1"/><line x1="50.6" y1="232.3" x2="820.6" y2="232.3" stroke="rgba(0,0,0,0.11)" stroke-width="1"/><line x1="50.6" y1="213.9" x2="820.6" y2="213.9" stroke="rgba(0,0,0,0.11)" stroke-width="1"/><line x1="50.6" y1="195.7" x2="820.6" y2="195.7" stroke="rgba(0,0,0,0.11)" stroke-width="1"/><line x1="50.6" y1="177.8" x2="820.6" y2="177.8" stroke="rgba(0,0,0,0.11)" stroke-width="1"/></g>
<polyline points="330.7,506.0 340.0,501.8 350.0,498.4 364.5,494.4 389.1,483.0 405.4,477.2 425.0,469.1 441.4,461.7 461.0,454.3 470.0,451.9 486.4,444.9 507.6,437.2 525.6,431.4 538.7,427.4 553.3,422.5 578.6,415.7 584.4,413.1 613.5,405.9 621.3,403.0 646.6,396.8 681.5,388.8 700.0,385.2 725.9,381.3 739.6,379.6 755.0,376.1 776.7,372.7 806.4,365.3 813.5,362.4" fill="none" stroke="#d91c44" stroke-width="1.3" stroke-linejoin="round"/>
<polyline points="50.8,475.5 56.0,470.5 62.9,466.6 72.0,464.6 82.3,463.1 99.4,456.9 114.3,452.9 124.6,450.3 139.4,450.3 150.0,449.1 159.6,445.3 169.2,442.7 177.2,442.7 186.8,438.4 202.8,432.8 218.8,428.0 231.6,423.5 246.0,415.2 262.0,404.0 278.0,392.0 294.1,375.0 307.9,364.7 321.6,354.4 335.3,341.9 353.6,328.1 369.6,317.2 385.6,307.6 403.9,298.4 422.1,289.3 440.4,280.1 454.1,275.1 467.9,272.1 480.0,270.1 491.4,267.5 507.4,267.5 517.7,269.3 537.1,273.9 548.6,278.7 558.9,282.7 573.7,283.9 582.1,285.9 590.1,289.3 599.3,291.8 610.7,292.7 624.4,292.7 633.6,296.1 649.6,300.7 656.4,300.7 665.0,303.0 671.3,305.0 695.3,315.3 714.7,321.9 731.9,321.9 745.0,325.6 752.4,326.4 774.1,328.7 793.6,329.9 802.7,331.8 813.5,331.8" fill="none" stroke="#2222a8" stroke-width="1.5" stroke-linejoin="round"/>
<g><line x1="52.9" y1="421.1" x2="52.9" y2="442.3" stroke="#d4002a" stroke-width="1.1"/><rect x="50.45" y="429.1" width="4.9" height="2.3" fill="#d4002a"/><line x1="58.0" y1="423.4" x2="58.0" y2="449.1" stroke="#d4002a" stroke-width="1.1"/><rect x="55.55" y="429.7" width="4.9" height="14.9" fill="#d4002a"/><line x1="63.1" y1="440.0" x2="63.1" y2="481.4" stroke="#d4002a" stroke-width="1.1"/><rect x="60.65" y="444.0" width="4.9" height="24.9" fill="#d4002a"/><line x1="68.2" y1="447.0" x2="68.2" y2="450.0" stroke="#000000" stroke-width="1.25"/><line x1="68.2" y1="471.7" x2="68.2" y2="474.0" stroke="#000000" stroke-width="1.1"/><rect x="66.45" y="450.0" width="3.5" height="21.7" fill="#fff" stroke="#000000" stroke-width="1.1"/><line x1="73.3" y1="452.3" x2="73.3" y2="498.0" stroke="#d4002a" stroke-width="1.1"/><rect x="70.85" y="454.6" width="4.9" height="33.7" fill="#d4002a"/><line x1="78.4" y1="466.0" x2="78.4" y2="468.3" stroke="#000000" stroke-width="1.25"/><line x1="78.4" y1="485.4" x2="78.4" y2="490.6" stroke="#000000" stroke-width="1.1"/><rect x="76.65" y="468.3" width="3.5" height="17.1" fill="#fff" stroke="#000000" stroke-width="1.1"/><line x1="83.5" y1="447.0" x2="83.5" y2="453.4" stroke="#000000" stroke-width="1.25"/><line x1="83.5" y1="470.0" x2="83.5" y2="475.0" stroke="#000000" stroke-width="1.1"/><rect x="81.75" y="453.4" width="3.5" height="16.6" fill="#fff" stroke="#000000" stroke-width="1.1"/><line x1="88.6" y1="429.7" x2="88.6" y2="460.9" stroke="#d4002a" stroke-width="1.1"/><rect x="86.3" y="455.3" width="4.6" height="1.7" fill="#d4002a"/><line x1="93.7" y1="426.3" x2="93.7" y2="449.1" stroke="#000000" stroke-width="1.1"/><rect x="91.25" y="433.1" width="4.9" height="6.3" fill="#000000"/><line x1="98.8" y1="427.4" x2="98.8" y2="441.1" stroke="#d4002a" stroke-width="1.25"/><line x1="98.8" y1="444.6" x2="98.8" y2="449.1" stroke="#d4002a" stroke-width="1.1"/><rect x="97.05" y="441.1" width="3.5" height="3.5" fill="#fff" stroke="#d4002a" stroke-width="1.1"/><line x1="103.9" y1="434.3" x2="103.9" y2="468.3" stroke="#d4002a" stroke-width="1.1"/><rect x="101.45" y="437.1" width="4.9" height="13.2" fill="#d4002a"/><line x1="109.0" y1="437.7" x2="109.0" y2="441.4" stroke="#000000" stroke-width="1.25"/><line x1="109.0" y1="445.5" x2="109.0" y2="453.7" stroke="#000000" stroke-width="1.1"/><rect x="107.25" y="441.4" width="3.5" height="4.1" fill="#fff" stroke="#000000" stroke-width="1.1"/><line x1="114.1" y1="438.9" x2="114.1" y2="459.4" stroke="#d4002a" stroke-width="1.1"/><rect x="111.8" y="442.5" width="4.6" height="1.5" fill="#d4002a"/><line x1="119.2" y1="430.9" x2="119.2" y2="453.7" stroke="#d4002a" stroke-width="1.1"/><rect x="116.75" y="442.9" width="4.9" height="4.0" fill="#d4002a"/><line x1="124.3" y1="421.1" x2="124.3" y2="427.4" stroke="#000000" stroke-width="1.25"/><line x1="124.3" y1="448.0" x2="124.3" y2="449.1" stroke="#000000" stroke-width="1.1"/><rect x="122.55" y="427.4" width="3.5" height="20.6" fill="#fff" stroke="#000000" stroke-width="1.1"/><line x1="129.4" y1="406.3" x2="129.4" y2="428.0" stroke="#000000" stroke-width="1.1"/><rect x="127.1" y="416.0" width="4.6" height="1.3" fill="#000000"/><line x1="134.5" y1="399.5" x2="134.5" y2="404.0" stroke="#000000" stroke-width="1.25"/><line x1="134.5" y1="418.3" x2="134.5" y2="422.9" stroke="#000000" stroke-width="1.1"/><rect x="132.75" y="404.0" width="3.5" height="14.3" fill="#fff" stroke="#000000" stroke-width="1.1"/><line x1="139.6" y1="391.0" x2="139.6" y2="413.1" stroke="#d4002a" stroke-width="1.1"/><rect x="137.15" y="401.1" width="4.9" height="8.0" fill="#d4002a"/><line x1="144.7" y1="405.1" x2="144.7" y2="419.7" stroke="#d4002a" stroke-width="1.1"/><rect x="142.4" y="411.3" width="4.6" height="1.5" fill="#d4002a"/><line x1="149.8" y1="400.0" x2="149.8" y2="405.1" stroke="#000000" stroke-width="1.25"/><line x1="149.8" y1="409.7" x2="149.8" y2="426.8" stroke="#000000" stroke-width="1.1"/><rect x="148.05" y="405.1" width="3.5" height="4.6" fill="#fff" stroke="#000000" stroke-width="1.1"/><line x1="154.9" y1="396.6" x2="154.9" y2="408.0" stroke="#000000" stroke-width="1.1"/><rect x="152.45" y="397.7" width="4.9" height="6.3" fill="#000000"/><line x1="160.0" y1="385.1" x2="160.0" y2="388.0" stroke="#000000" stroke-width="1.25"/><line x1="160.0" y1="401.7" x2="160.0" y2="409.1" stroke="#000000" stroke-width="1.1"/><rect x="158.25" y="388.0" width="3.5" height="13.7" fill="#fff" stroke="#000000" stroke-width="1.1"/><line x1="165.1" y1="382.3" x2="165.1" y2="416.0" stroke="#d4002a" stroke-width="1.1"/><rect x="162.65" y="388.6" width="4.9" height="17.1" fill="#d4002a"/><line x1="170.2" y1="395.4" x2="170.2" y2="396.6" stroke="#000000" stroke-width="1.25"/><line x1="170.2" y1="406.3" x2="170.2" y2="416.6" stroke="#000000" stroke-width="1.1"/><rect x="168.45" y="396.6" width="3.5" height="9.7" fill="#fff" stroke="#000000" stroke-width="1.1"/><line x1="175.3" y1="389.1" x2="175.3" y2="394.3" stroke="#000000" stroke-width="1.25"/><line x1="175.3" y1="399.4" x2="175.3" y2="405.7" stroke="#000000" stroke-width="1.1"/><rect x="173.55" y="394.3" width="3.5" height="5.1" fill="#fff" stroke="#000000" stroke-width="1.1"/><line x1="180.4" y1="378.9" x2="180.4" y2="380.6" stroke="#000000" stroke-width="1.25"/><line x1="180.4" y1="394.3" x2="180.4" y2="404.6" stroke="#000000" stroke-width="1.1"/><rect x="178.65" y="380.6" width="3.5" height="13.7" fill="#fff" stroke="#000000" stroke-width="1.1"/><line x1="185.5" y1="363.4" x2="185.5" y2="371.4" stroke="#000000" stroke-width="1.25"/><line x1="185.5" y1="381.7" x2="185.5" y2="385.7" stroke="#000000" stroke-width="1.1"/><rect x="183.75" y="371.4" width="3.5" height="10.3" fill="#fff" stroke="#000000" stroke-width="1.1"/><line x1="190.6" y1="367.4" x2="190.6" y2="389.7" stroke="#d4002a" stroke-width="1.1"/><rect x="188.15" y="372.6" width="4.9" height="13.1" fill="#d4002a"/><line x1="195.7" y1="373.7" x2="195.7" y2="392.0" stroke="#d4002a" stroke-width="1.1"/><rect x="193.25" y="381.1" width="4.9" height="5.8" fill="#d4002a"/><line x1="200.8" y1="372.6" x2="200.8" y2="376.6" stroke="#000000" stroke-width="1.25"/><line x1="200.8" y1="385.7" x2="200.8" y2="386.9" stroke="#000000" stroke-width="1.1"/><rect x="199.05" y="376.6" width="3.5" height="9.1" fill="#fff" stroke="#000000" stroke-width="1.1"/><line x1="205.9" y1="376.0" x2="205.9" y2="377.1" stroke="#d4002a" stroke-width="1.25"/><line x1="205.9" y1="384.6" x2="205.9" y2="396.0" stroke="#d4002a" stroke-width="1.1"/><rect x="204.15" y="377.1" width="3.5" height="7.5" fill="#fff" stroke="#d4002a" stroke-width="1.1"/><line x1="211.0" y1="372.6" x2="211.0" y2="385.7" stroke="#000000" stroke-width="1.1"/><rect x="208.7" y="377.6" width="4.6" height="1.4" fill="#000000"/><line x1="216.1" y1="374.9" x2="216.1" y2="394.9" stroke="#d4002a" stroke-width="1.1"/><rect x="213.65" y="377.1" width="4.9" height="10.9" fill="#d4002a"/><line x1="221.2" y1="377.1" x2="221.2" y2="380.6" stroke="#000000" stroke-width="1.25"/><line x1="221.2" y1="392.0" x2="221.2" y2="393.1" stroke="#000000" stroke-width="1.1"/><rect x="219.45" y="380.6" width="3.5" height="11.4" fill="#fff" stroke="#000000" stroke-width="1.1"/><line x1="226.3" y1="369.5" x2="226.3" y2="374.2" stroke="#000000" stroke-width="1.25"/><line x1="226.3" y1="379.2" x2="226.3" y2="383.2" stroke="#000000" stroke-width="1.1"/><rect x="224.55" y="374.2" width="3.5" height="5.0" fill="#fff" stroke="#000000" stroke-width="1.1"/><line x1="231.4" y1="351.0" x2="231.4" y2="352.3" stroke="#000000" stroke-width="1.25"/><line x1="231.4" y1="373.4" x2="231.4" y2="374.5" stroke="#000000" stroke-width="1.1"/><rect x="229.65" y="352.3" width="3.5" height="21.1" fill="#fff" stroke="#000000" stroke-width="1.1"/><line x1="236.5" y1="330.3" x2="236.5" y2="335.2" stroke="#000000" stroke-width="1.25"/><line x1="236.5" y1="354.0" x2="236.5" y2="355.0" stroke="#000000" stroke-width="1.1"/><rect x="234.75" y="335.2" width="3.5" height="18.8" fill="#fff" stroke="#000000" stroke-width="1.1"/><line x1="241.6" y1="310.3" x2="241.6" y2="316.6" stroke="#000000" stroke-width="1.25"/><line x1="241.6" y1="330.3" x2="241.6" y2="337.7" stroke="#000000" stroke-width="1.1"/><rect x="239.85" y="316.6" width="3.5" height="13.7" fill="#fff" stroke="#000000" stroke-width="1.1"/><line x1="246.7" y1="304.0" x2="246.7" y2="310.3" stroke="#000000" stroke-width="1.25"/><line x1="246.7" y1="320.0" x2="246.7" y2="324.0" stroke="#000000" stroke-width="1.1"/><rect x="244.95" y="310.3" width="3.5" height="9.7" fill="#fff" stroke="#000000" stroke-width="1.1"/><line x1="251.8" y1="274.7" x2="251.8" y2="284.0" stroke="#000000" stroke-width="1.25"/><line x1="251.8" y1="308.0" x2="251.8" y2="309.1" stroke="#000000" stroke-width="1.1"/><rect x="250.05" y="284.0" width="3.5" height="24.0" fill="#fff" stroke="#000000" stroke-width="1.1"/><line x1="256.9" y1="250.1" x2="256.9" y2="274.1" stroke="#000000" stroke-width="1.25"/><line x1="256.9" y1="279.3" x2="256.9" y2="308.0" stroke="#000000" stroke-width="1.1"/><rect x="255.15" y="274.1" width="3.5" height="5.2" fill="#fff" stroke="#000000" stroke-width="1.1"/><line x1="262.0" y1="250.1" x2="262.0" y2="266.1" stroke="#000000" stroke-width="1.25"/><line x1="262.0" y1="269.6" x2="262.0" y2="282.0" stroke="#000000" stroke-width="1.1"/><rect x="260.25" y="266.1" width="3.5" height="3.5" fill="#fff" stroke="#000000" stroke-width="1.1"/><line x1="267.1" y1="241.0" x2="267.1" y2="268.4" stroke="#000000" stroke-width="1.1"/><rect x="264.65" y="241.6" width="4.9" height="15.4" fill="#000000"/><line x1="272.2" y1="227.3" x2="272.2" y2="242.7" stroke="#000000" stroke-width="1.25"/><line x1="272.2" y1="252.4" x2="272.2" y2="253.0" stroke="#000000" stroke-width="1.1"/><rect x="270.45" y="242.7" width="3.5" height="9.7" fill="#fff" stroke="#000000" stroke-width="1.1"/><line x1="277.3" y1="224.0" x2="277.3" y2="250.7" stroke="#000000" stroke-width="1.1"/><rect x="274.85" y="234.1" width="4.9" height="9.2" fill="#000000"/><line x1="282.4" y1="203.9" x2="282.4" y2="216.4" stroke="#000000" stroke-width="1.25"/><line x1="282.4" y1="236.4" x2="282.4" y2="246.1" stroke="#000000" stroke-width="1.1"/><rect x="280.65" y="216.4" width="3.5" height="20.0" fill="#fff" stroke="#000000" stroke-width="1.1"/><line x1="287.5" y1="180.4" x2="287.5" y2="195.3" stroke="#000000" stroke-width="1.25"/><line x1="287.5" y1="205.0" x2="287.5" y2="211.9" stroke="#000000" stroke-width="1.1"/><rect x="285.75" y="195.3" width="3.5" height="9.7" fill="#fff" stroke="#000000" stroke-width="1.1"/><line x1="292.6" y1="174.1" x2="292.6" y2="181.6" stroke="#000000" stroke-width="1.25"/><line x1="292.6" y1="191.9" x2="292.6" y2="197.0" stroke="#000000" stroke-width="1.1"/><rect x="290.85" y="181.6" width="3.5" height="10.3" fill="#fff" stroke="#000000" stroke-width="1.1"/><line x1="297.7" y1="166.1" x2="297.7" y2="214.7" stroke="#d4002a" stroke-width="1.1"/><rect x="295.25" y="176.4" width="4.9" height="35.5" fill="#d4002a"/><line x1="302.8" y1="187.3" x2="302.8" y2="211.9" stroke="#000000" stroke-width="1.1"/><rect x="300.35" y="198.7" width="4.9" height="4.6" fill="#000000"/><line x1="307.9" y1="202.1" x2="307.9" y2="299.5" stroke="#d4002a" stroke-width="1.1"/><rect x="305.45" y="203.9" width="4.9" height="69.1" fill="#d4002a"/><line x1="313.0" y1="261.0" x2="313.0" y2="270.1" stroke="#000000" stroke-width="1.25"/><line x1="313.0" y1="291.7" x2="313.0" y2="329.3" stroke="#000000" stroke-width="1.1"/><rect x="311.25" y="270.1" width="3.5" height="21.6" fill="#fff" stroke="#000000" stroke-width="1.1"/><line x1="318.1" y1="250.1" x2="318.1" y2="254.1" stroke="#000000" stroke-width="1.25"/><line x1="318.1" y1="287.1" x2="318.1" y2="290.6" stroke="#000000" stroke-width="1.1"/><rect x="316.35" y="254.1" width="3.5" height="33.0" fill="#fff" stroke="#000000" stroke-width="1.1"/><line x1="323.2" y1="253.7" x2="323.2" y2="278.0" stroke="#d4002a" stroke-width="1.1"/><rect x="320.75" y="258.8" width="4.9" height="12.0" fill="#d4002a"/><line x1="328.3" y1="231.6" x2="328.3" y2="232.5" stroke="#000000" stroke-width="1.25"/><line x1="328.3" y1="265.1" x2="328.3" y2="278.0" stroke="#000000" stroke-width="1.1"/><rect x="326.55" y="232.5" width="3.5" height="32.6" fill="#fff" stroke="#000000" stroke-width="1.1"/><line x1="333.4" y1="213.6" x2="333.4" y2="222.8" stroke="#000000" stroke-width="1.25"/><line x1="333.4" y1="236.5" x2="333.4" y2="243.2" stroke="#000000" stroke-width="1.1"/><rect x="331.65" y="222.8" width="3.5" height="13.7" fill="#fff" stroke="#000000" stroke-width="1.1"/><line x1="338.5" y1="220.0" x2="338.5" y2="284.9" stroke="#d4002a" stroke-width="1.1"/><rect x="336.05" y="223.6" width="4.9" height="30.7" fill="#d4002a"/><line x1="343.6" y1="260.1" x2="343.6" y2="272.2" stroke="#d4002a" stroke-width="1.25"/><line x1="343.6" y1="282.0" x2="343.6" y2="285.4" stroke="#d4002a" stroke-width="1.1"/><rect x="341.85" y="272.2" width="3.5" height="9.8" fill="#fff" stroke="#d4002a" stroke-width="1.1"/><line x1="348.7" y1="260.1" x2="348.7" y2="295.7" stroke="#000000" stroke-width="1.1"/><rect x="346.25" y="264.7" width="4.9" height="7.3" fill="#000000"/><line x1="353.8" y1="253.9" x2="353.8" y2="284.3" stroke="#d4002a" stroke-width="1.1"/><rect x="351.35" y="270.8" width="4.9" height="7.8" fill="#d4002a"/><line x1="358.9" y1="274.0" x2="358.9" y2="293.4" stroke="#d4002a" stroke-width="1.1"/><rect x="356.45" y="280.3" width="4.9" height="10.8" fill="#d4002a"/><line x1="364.0" y1="259.0" x2="364.0" y2="267.6" stroke="#000000" stroke-width="1.25"/><line x1="364.0" y1="278.0" x2="364.0" y2="302.0" stroke="#000000" stroke-width="1.1"/><rect x="362.25" y="267.6" width="3.5" height="10.4" fill="#fff" stroke="#000000" stroke-width="1.1"/><line x1="369.1" y1="241.3" x2="369.1" y2="297.4" stroke="#d4002a" stroke-width="1.1"/><rect x="366.65" y="260.1" width="4.9" height="23.0" fill="#d4002a"/><line x1="374.2" y1="245.3" x2="374.2" y2="250.4" stroke="#000000" stroke-width="1.25"/><line x1="374.2" y1="279.0" x2="374.2" y2="286.7" stroke="#000000" stroke-width="1.1"/><rect x="372.45" y="250.4" width="3.5" height="28.6" fill="#fff" stroke="#000000" stroke-width="1.1"/><line x1="379.3" y1="242.4" x2="379.3" y2="248.1" stroke="#000000" stroke-width="1.25"/><line x1="379.3" y1="251.8" x2="379.3" y2="260.7" stroke="#000000" stroke-width="1.1"/><rect x="377.55" y="248.1" width="3.5" height="3.7" fill="#fff" stroke="#000000" stroke-width="1.1"/><line x1="384.4" y1="231.0" x2="384.4" y2="248.1" stroke="#000000" stroke-width="1.25"/><line x1="384.4" y1="251.8" x2="384.4" y2="255.6" stroke="#000000" stroke-width="1.1"/><rect x="382.65" y="248.1" width="3.5" height="3.7" fill="#fff" stroke="#000000" stroke-width="1.1"/><line x1="389.5" y1="246.2" x2="389.5" y2="278.5" stroke="#d4002a" stroke-width="1.1"/><rect x="387.05" y="248.7" width="4.9" height="26.0" fill="#d4002a"/><line x1="394.6" y1="263.6" x2="394.6" y2="287.0" stroke="#d4002a" stroke-width="1.1"/><rect x="392.15" y="269.9" width="4.9" height="9.7" fill="#d4002a"/><line x1="399.7" y1="263.6" x2="399.7" y2="291.6" stroke="#d4002a" stroke-width="1.1"/><rect x="397.25" y="279.0" width="4.9" height="2.9" fill="#d4002a"/><line x1="404.8" y1="270.2" x2="404.8" y2="275.0" stroke="#000000" stroke-width="1.25"/><line x1="404.8" y1="279.6" x2="404.8" y2="299.3" stroke="#000000" stroke-width="1.1"/><rect x="403.05" y="275.0" width="3.5" height="4.6" fill="#fff" stroke="#000000" stroke-width="1.1"/><line x1="409.9" y1="262.4" x2="409.9" y2="265.3" stroke="#000000" stroke-width="1.25"/><line x1="409.9" y1="277.9" x2="409.9" y2="288.0" stroke="#000000" stroke-width="1.1"/><rect x="408.15" y="265.3" width="3.5" height="12.6" fill="#fff" stroke="#000000" stroke-width="1.1"/><line x1="415.0" y1="250.1" x2="415.0" y2="259.0" stroke="#000000" stroke-width="1.25"/><line x1="415.0" y1="265.3" x2="415.0" y2="270.4" stroke="#000000" stroke-width="1.1"/><rect x="413.25" y="259.0" width="3.5" height="6.3" fill="#fff" stroke="#000000" stroke-width="1.1"/><line x1="420.1" y1="258.4" x2="420.1" y2="274.4" stroke="#d4002a" stroke-width="1.1"/><rect x="417.65" y="265.9" width="4.9" height="5.7" fill="#d4002a"/><line x1="425.2" y1="252.7" x2="425.2" y2="259.0" stroke="#000000" stroke-width="1.25"/><line x1="425.2" y1="270.4" x2="425.2" y2="273.3" stroke="#000000" stroke-width="1.1"/><rect x="423.45" y="259.0" width="3.5" height="11.4" fill="#fff" stroke="#000000" stroke-width="1.1"/><line x1="430.3" y1="245.3" x2="430.3" y2="265.9" stroke="#000000" stroke-width="1.1"/><rect x="428.0" y="257.2" width="4.6" height="1.4" fill="#000000"/><line x1="435.4" y1="243.6" x2="435.4" y2="254.4" stroke="#000000" stroke-width="1.25"/><line x1="435.4" y1="261.9" x2="435.4" y2="264.7" stroke="#000000" stroke-width="1.1"/><rect x="433.65" y="254.4" width="3.5" height="7.5" fill="#fff" stroke="#000000" stroke-width="1.1"/><line x1="440.5" y1="255.0" x2="440.5" y2="279.6" stroke="#d4002a" stroke-width="1.1"/><rect x="438.05" y="256.1" width="4.9" height="14.3" fill="#d4002a"/><line x1="445.6" y1="255.0" x2="445.6" y2="260.7" stroke="#000000" stroke-width="1.25"/><line x1="445.6" y1="269.3" x2="445.6" y2="270.0" stroke="#000000" stroke-width="1.1"/><rect x="443.85" y="260.7" width="3.5" height="8.6" fill="#fff" stroke="#000000" stroke-width="1.1"/><line x1="450.7" y1="260.1" x2="450.7" y2="320.5" stroke="#d4002a" stroke-width="1.1"/><rect x="448.25" y="264.1" width="4.9" height="36.3" fill="#d4002a"/><line x1="455.8" y1="287.4" x2="455.8" y2="309.4" stroke="#d4002a" stroke-width="1.1"/><rect x="453.35" y="293.6" width="4.9" height="9.1" fill="#d4002a"/><line x1="460.9" y1="299.9" x2="460.9" y2="343.4" stroke="#d4002a" stroke-width="1.1"/><rect x="458.45" y="303.9" width="4.9" height="29.1" fill="#d4002a"/><line x1="466.0" y1="322.5" x2="466.0" y2="326.8" stroke="#000000" stroke-width="1.25"/><line x1="466.0" y1="334.2" x2="466.0" y2="346.9" stroke="#000000" stroke-width="1.1"/><rect x="464.25" y="326.8" width="3.5" height="7.4" fill="#fff" stroke="#000000" stroke-width="1.1"/><line x1="471.1" y1="324.0" x2="471.1" y2="344.0" stroke="#d4002a" stroke-width="1.1"/><rect x="468.65" y="330.2" width="4.9" height="5.2" fill="#d4002a"/><line x1="476.2" y1="317.9" x2="476.2" y2="321.6" stroke="#000000" stroke-width="1.25"/><line x1="476.2" y1="338.2" x2="476.2" y2="346.9" stroke="#000000" stroke-width="1.1"/><rect x="474.45" y="321.6" width="3.5" height="16.6" fill="#fff" stroke="#000000" stroke-width="1.1"/><line x1="481.3" y1="304.0" x2="481.3" y2="305.0" stroke="#000000" stroke-width="1.25"/><line x1="481.3" y1="319.4" x2="481.3" y2="323.1" stroke="#000000" stroke-width="1.1"/><rect x="479.55" y="305.0" width="3.5" height="14.4" fill="#fff" stroke="#000000" stroke-width="1.1"/><line x1="486.4" y1="301.3" x2="486.4" y2="319.4" stroke="#d4002a" stroke-width="1.1"/><rect x="483.95" y="305.2" width="4.9" height="6.5" fill="#d4002a"/><line x1="491.5" y1="294.0" x2="491.5" y2="295.0" stroke="#000000" stroke-width="1.25"/><line x1="491.5" y1="315.9" x2="491.5" y2="316.5" stroke="#000000" stroke-width="1.1"/><rect x="489.75" y="295.0" width="3.5" height="20.9" fill="#fff" stroke="#000000" stroke-width="1.1"/><line x1="496.6" y1="290.1" x2="496.6" y2="312.0" stroke="#d4002a" stroke-width="1.1"/><rect x="494.15" y="298.7" width="4.9" height="4.3" fill="#d4002a"/><line x1="501.7" y1="288.4" x2="501.7" y2="292.4" stroke="#000000" stroke-width="1.25"/><line x1="501.7" y1="300.4" x2="501.7" y2="315.6" stroke="#000000" stroke-width="1.1"/><rect x="499.95" y="292.4" width="3.5" height="8.0" fill="#fff" stroke="#000000" stroke-width="1.1"/><line x1="506.8" y1="287.3" x2="506.8" y2="325.7" stroke="#d4002a" stroke-width="1.1"/><rect x="504.35" y="294.1" width="4.9" height="7.5" fill="#d4002a"/><line x1="511.9" y1="306.2" x2="511.9" y2="315.3" stroke="#d4002a" stroke-width="1.25"/><line x1="511.9" y1="321.6" x2="511.9" y2="326.9" stroke="#d4002a" stroke-width="1.1"/><rect x="510.15" y="315.3" width="3.5" height="6.3" fill="#fff" stroke="#d4002a" stroke-width="1.1"/><line x1="517.0" y1="304.2" x2="517.0" y2="311.3" stroke="#000000" stroke-width="1.25"/><line x1="517.0" y1="315.3" x2="517.0" y2="320.5" stroke="#000000" stroke-width="1.1"/><rect x="515.25" y="311.3" width="3.5" height="4.0" fill="#fff" stroke="#000000" stroke-width="1.1"/><line x1="522.1" y1="279.9" x2="522.1" y2="287.3" stroke="#000000" stroke-width="1.25"/><line x1="522.1" y1="309.6" x2="522.1" y2="310.2" stroke="#000000" stroke-width="1.1"/><rect x="520.35" y="287.3" width="3.5" height="22.3" fill="#fff" stroke="#000000" stroke-width="1.1"/><line x1="527.2" y1="277.6" x2="527.2" y2="290.7" stroke="#000000" stroke-width="1.1"/><rect x="524.75" y="281.0" width="4.9" height="4.6" fill="#000000"/><line x1="532.3" y1="283.3" x2="532.3" y2="317.0" stroke="#d4002a" stroke-width="1.1"/><rect x="529.85" y="285.6" width="4.9" height="27.8" fill="#d4002a"/><line x1="537.4" y1="293.6" x2="537.4" y2="302.7" stroke="#000000" stroke-width="1.25"/><line x1="537.4" y1="311.3" x2="537.4" y2="320.5" stroke="#000000" stroke-width="1.1"/><rect x="535.65" y="302.7" width="3.5" height="8.6" fill="#fff" stroke="#000000" stroke-width="1.1"/><line x1="542.5" y1="297.6" x2="542.5" y2="301.0" stroke="#000000" stroke-width="1.25"/><line x1="542.5" y1="304.4" x2="542.5" y2="314.7" stroke="#000000" stroke-width="1.1"/><rect x="540.75" y="301.0" width="3.5" height="3.4" fill="#fff" stroke="#000000" stroke-width="1.1"/><line x1="547.6" y1="293.6" x2="547.6" y2="308.4" stroke="#d4002a" stroke-width="1.1"/><rect x="545.15" y="297.6" width="4.9" height="5.7" fill="#d4002a"/><line x1="552.7" y1="290.1" x2="552.7" y2="299.3" stroke="#000000" stroke-width="1.25"/><line x1="552.7" y1="305.6" x2="552.7" y2="308.4" stroke="#000000" stroke-width="1.1"/><rect x="550.95" y="299.3" width="3.5" height="6.3" fill="#fff" stroke="#000000" stroke-width="1.1"/><line x1="557.8" y1="294.1" x2="557.8" y2="296.4" stroke="#000000" stroke-width="1.25"/><line x1="557.8" y1="302.7" x2="557.8" y2="310.7" stroke="#000000" stroke-width="1.1"/><rect x="556.05" y="296.4" width="3.5" height="6.3" fill="#fff" stroke="#000000" stroke-width="1.1"/><line x1="562.9" y1="279.9" x2="562.9" y2="285.0" stroke="#000000" stroke-width="1.25"/><line x1="562.9" y1="299.3" x2="562.9" y2="300.0" stroke="#000000" stroke-width="1.1"/><rect x="561.15" y="285.0" width="3.5" height="14.3" fill="#fff" stroke="#000000" stroke-width="1.1"/><line x1="568.0" y1="284.4" x2="568.0" y2="313.5" stroke="#d4002a" stroke-width="1.1"/><rect x="565.55" y="285.5" width="4.9" height="18.8" fill="#d4002a"/><line x1="573.1" y1="294.9" x2="573.1" y2="311.8" stroke="#000000" stroke-width="1.1"/><rect x="570.8" y="302.8" width="4.6" height="1.4" fill="#000000"/><line x1="578.2" y1="298.8" x2="578.2" y2="314.9" stroke="#000000" stroke-width="1.1"/><rect x="575.9" y="303.3" width="4.6" height="1.4" fill="#000000"/><line x1="583.3" y1="297.3" x2="583.3" y2="298.4" stroke="#000000" stroke-width="1.25"/><line x1="583.3" y1="305.3" x2="583.3" y2="309.3" stroke="#000000" stroke-width="1.1"/><rect x="581.55" y="298.4" width="3.5" height="6.9" fill="#fff" stroke="#000000" stroke-width="1.1"/><line x1="588.4" y1="297.3" x2="588.4" y2="333.1" stroke="#d4002a" stroke-width="1.1"/><rect x="585.95" y="300.1" width="4.9" height="24.5" fill="#d4002a"/><line x1="593.5" y1="320.0" x2="593.5" y2="340.6" stroke="#d4002a" stroke-width="1.1"/><rect x="591.05" y="325.1" width="4.9" height="9.2" fill="#d4002a"/><line x1="598.6" y1="314.9" x2="598.6" y2="324.0" stroke="#000000" stroke-width="1.25"/><line x1="598.6" y1="334.3" x2="598.6" y2="338.3" stroke="#000000" stroke-width="1.1"/><rect x="596.85" y="324.0" width="3.5" height="10.3" fill="#fff" stroke="#000000" stroke-width="1.1"/><line x1="603.7" y1="310.1" x2="603.7" y2="313.8" stroke="#000000" stroke-width="1.25"/><line x1="603.7" y1="326.9" x2="603.7" y2="329.1" stroke="#000000" stroke-width="1.1"/><rect x="601.95" y="313.8" width="3.5" height="13.1" fill="#fff" stroke="#000000" stroke-width="1.1"/><line x1="608.8" y1="299.0" x2="608.8" y2="299.6" stroke="#000000" stroke-width="1.25"/><line x1="608.8" y1="311.5" x2="608.8" y2="318.3" stroke="#000000" stroke-width="1.1"/><rect x="607.05" y="299.6" width="3.5" height="11.9" fill="#fff" stroke="#000000" stroke-width="1.1"/><line x1="613.9" y1="293.9" x2="613.9" y2="323.4" stroke="#d4002a" stroke-width="1.1"/><rect x="611.45" y="300.1" width="4.9" height="11.4" fill="#d4002a"/><line x1="619.0" y1="265.9" x2="619.0" y2="271.0" stroke="#000000" stroke-width="1.25"/><line x1="619.0" y1="305.5" x2="619.0" y2="306.9" stroke="#000000" stroke-width="1.1"/><rect x="617.25" y="271.0" width="3.5" height="34.5" fill="#fff" stroke="#000000" stroke-width="1.1"/><line x1="624.1" y1="259.6" x2="624.1" y2="279.6" stroke="#000000" stroke-width="1.1"/><rect x="621.8" y="267.8" width="4.6" height="1.4" fill="#000000"/><line x1="629.2" y1="257.3" x2="629.2" y2="349.7" stroke="#d4002a" stroke-width="1.1"/><rect x="626.75" y="265.3" width="4.9" height="79.3" fill="#d4002a"/><line x1="634.3" y1="316.6" x2="634.3" y2="326.9" stroke="#000000" stroke-width="1.25"/><line x1="634.3" y1="336.6" x2="634.3" y2="340.6" stroke="#000000" stroke-width="1.1"/><rect x="632.55" y="326.9" width="3.5" height="9.7" fill="#fff" stroke="#000000" stroke-width="1.1"/><line x1="639.4" y1="321.1" x2="639.4" y2="345.7" stroke="#d4002a" stroke-width="1.1"/><rect x="636.95" y="326.3" width="4.9" height="13.1" fill="#d4002a"/><line x1="644.5" y1="321.1" x2="644.5" y2="329.1" stroke="#000000" stroke-width="1.25"/><line x1="644.5" y1="336.6" x2="644.5" y2="339.4" stroke="#000000" stroke-width="1.1"/><rect x="642.75" y="329.1" width="3.5" height="7.5" fill="#fff" stroke="#000000" stroke-width="1.1"/><line x1="649.6" y1="311.3" x2="649.6" y2="318.8" stroke="#000000" stroke-width="1.25"/><line x1="649.6" y1="328.2" x2="649.6" y2="330.8" stroke="#000000" stroke-width="1.1"/><rect x="647.85" y="318.8" width="3.5" height="9.4" fill="#fff" stroke="#000000" stroke-width="1.1"/><line x1="654.7" y1="310.2" x2="654.7" y2="339.4" stroke="#000000" stroke-width="1.1"/><rect x="652.4" y="317.7" width="4.6" height="1.4" fill="#000000"/><line x1="659.8" y1="313.6" x2="659.8" y2="326.8" stroke="#d4002a" stroke-width="1.1"/><rect x="657.35" y="317.0" width="4.9" height="3.8" fill="#d4002a"/><line x1="664.9" y1="319.9" x2="664.9" y2="339.3" stroke="#d4002a" stroke-width="1.1"/><rect x="662.45" y="323.9" width="4.9" height="5.7" fill="#d4002a"/><line x1="670.0" y1="329.0" x2="670.0" y2="348.4" stroke="#d4002a" stroke-width="1.1"/><rect x="667.55" y="330.1" width="4.9" height="9.2" fill="#d4002a"/><line x1="675.1" y1="323.9" x2="675.1" y2="330.7" stroke="#000000" stroke-width="1.25"/><line x1="675.1" y1="337.0" x2="675.1" y2="340.4" stroke="#000000" stroke-width="1.1"/><rect x="673.35" y="330.7" width="3.5" height="6.3" fill="#fff" stroke="#000000" stroke-width="1.1"/><line x1="680.2" y1="327.3" x2="680.2" y2="365.9" stroke="#d4002a" stroke-width="1.1"/><rect x="677.75" y="331.3" width="4.9" height="26.1" fill="#d4002a"/><line x1="685.3" y1="357.2" x2="685.3" y2="392.2" stroke="#d4002a" stroke-width="1.1"/><rect x="682.85" y="358.5" width="4.9" height="27.3" fill="#d4002a"/><line x1="690.4" y1="375.0" x2="690.4" y2="390.5" stroke="#000000" stroke-width="1.1"/><rect x="688.1" y="383.4" width="4.6" height="1.4" fill="#000000"/><line x1="695.5" y1="370.0" x2="695.5" y2="408.5" stroke="#d4002a" stroke-width="1.1"/><rect x="693.05" y="378.4" width="4.9" height="19.9" fill="#d4002a"/><line x1="700.6" y1="393.6" x2="700.6" y2="416.0" stroke="#d4002a" stroke-width="1.1"/><rect x="698.15" y="396.1" width="4.9" height="8.1" fill="#d4002a"/><line x1="705.7" y1="371.5" x2="705.7" y2="372.7" stroke="#000000" stroke-width="1.25"/><line x1="705.7" y1="405.8" x2="705.7" y2="407.1" stroke="#000000" stroke-width="1.1"/><rect x="703.95" y="372.7" width="3.5" height="33.1" fill="#fff" stroke="#000000" stroke-width="1.1"/><line x1="710.8" y1="358.4" x2="710.8" y2="364.1" stroke="#000000" stroke-width="1.25"/><line x1="710.8" y1="372.7" x2="710.8" y2="380.7" stroke="#000000" stroke-width="1.1"/><rect x="709.05" y="364.1" width="3.5" height="8.6" fill="#fff" stroke="#000000" stroke-width="1.1"/><line x1="715.9" y1="350.1" x2="715.9" y2="352.1" stroke="#000000" stroke-width="1.25"/><line x1="715.9" y1="359.7" x2="715.9" y2="366.7" stroke="#000000" stroke-width="1.1"/><rect x="714.15" y="352.1" width="3.5" height="7.6" fill="#fff" stroke="#000000" stroke-width="1.1"/><line x1="721.0" y1="345.2" x2="721.0" y2="363.3" stroke="#d4002a" stroke-width="1.1"/><rect x="718.55" y="351.5" width="4.9" height="4.0" fill="#d4002a"/><line x1="726.1" y1="328.4" x2="726.1" y2="335.3" stroke="#000000" stroke-width="1.25"/><line x1="726.1" y1="355.2" x2="726.1" y2="368.1" stroke="#000000" stroke-width="1.1"/><rect x="724.35" y="335.3" width="3.5" height="19.9" fill="#fff" stroke="#000000" stroke-width="1.1"/><line x1="731.2" y1="323.9" x2="731.2" y2="327.8" stroke="#000000" stroke-width="1.25"/><line x1="731.2" y1="335.8" x2="731.2" y2="336.5" stroke="#000000" stroke-width="1.1"/><rect x="729.45" y="327.8" width="3.5" height="8.0" fill="#fff" stroke="#000000" stroke-width="1.1"/><line x1="736.3" y1="327.0" x2="736.3" y2="365.9" stroke="#d4002a" stroke-width="1.1"/><rect x="733.85" y="327.8" width="4.9" height="28.8" fill="#d4002a"/><line x1="741.4" y1="343.6" x2="741.4" y2="363.2" stroke="#d4002a" stroke-width="1.1"/><rect x="738.95" y="353.2" width="4.9" height="4.8" fill="#d4002a"/><line x1="746.5" y1="346.4" x2="746.5" y2="352.1" stroke="#000000" stroke-width="1.25"/><line x1="746.5" y1="356.1" x2="746.5" y2="367.0" stroke="#000000" stroke-width="1.1"/><rect x="744.75" y="352.1" width="3.5" height="4.0" fill="#fff" stroke="#000000" stroke-width="1.1"/><line x1="751.6" y1="350.0" x2="751.6" y2="372.1" stroke="#d4002a" stroke-width="1.1"/><rect x="749.15" y="351.0" width="4.9" height="12.0" fill="#d4002a"/><line x1="756.7" y1="340.1" x2="756.7" y2="343.6" stroke="#000000" stroke-width="1.25"/><line x1="756.7" y1="365.3" x2="756.7" y2="366.0" stroke="#000000" stroke-width="1.1"/><rect x="754.95" y="343.6" width="3.5" height="21.7" fill="#fff" stroke="#000000" stroke-width="1.1"/><line x1="761.8" y1="331.6" x2="761.8" y2="349.3" stroke="#000000" stroke-width="1.1"/><rect x="759.35" y="339.8" width="4.9" height="1.8" fill="#000000"/><line x1="766.9" y1="306.4" x2="766.9" y2="315.6" stroke="#000000" stroke-width="1.25"/><line x1="766.9" y1="333.3" x2="766.9" y2="335.6" stroke="#000000" stroke-width="1.1"/><rect x="765.15" y="315.6" width="3.5" height="17.7" fill="#fff" stroke="#000000" stroke-width="1.1"/><line x1="772.0" y1="311.0" x2="772.0" y2="323.0" stroke="#d4002a" stroke-width="1.1"/><rect x="769.55" y="315.0" width="4.9" height="1.8" fill="#d4002a"/><line x1="777.1" y1="299.0" x2="777.1" y2="340.7" stroke="#d4002a" stroke-width="1.1"/><rect x="774.65" y="313.9" width="4.9" height="8.0" fill="#d4002a"/><line x1="782.2" y1="316.1" x2="782.2" y2="336.7" stroke="#d4002a" stroke-width="1.1"/><rect x="779.75" y="321.3" width="4.9" height="10.3" fill="#d4002a"/><line x1="787.3" y1="321.3" x2="787.3" y2="325.3" stroke="#000000" stroke-width="1.25"/><line x1="787.3" y1="335.0" x2="787.3" y2="339.6" stroke="#000000" stroke-width="1.1"/><rect x="785.55" y="325.3" width="3.5" height="9.7" fill="#fff" stroke="#000000" stroke-width="1.1"/><line x1="792.4" y1="317.9" x2="792.4" y2="321.9" stroke="#000000" stroke-width="1.25"/><line x1="792.4" y1="327.0" x2="792.4" y2="329.3" stroke="#000000" stroke-width="1.1"/><rect x="790.65" y="321.9" width="3.5" height="5.1" fill="#fff" stroke="#000000" stroke-width="1.1"/><line x1="797.5" y1="305.3" x2="797.5" y2="329.3" stroke="#d4002a" stroke-width="1.1"/><rect x="795.05" y="317.9" width="4.9" height="6.8" fill="#d4002a"/><line x1="802.6" y1="315.0" x2="802.6" y2="321.9" stroke="#000000" stroke-width="1.25"/><line x1="802.6" y1="325.3" x2="802.6" y2="328.1" stroke="#000000" stroke-width="1.1"/><rect x="800.85" y="321.9" width="3.5" height="3.4" fill="#fff" stroke="#000000" stroke-width="1.1"/><line x1="807.7" y1="308.7" x2="807.7" y2="312.7" stroke="#000000" stroke-width="1.25"/><line x1="807.7" y1="323.0" x2="807.7" y2="324.0" stroke="#000000" stroke-width="1.1"/><rect x="805.95" y="312.7" width="3.5" height="10.3" fill="#fff" stroke="#000000" stroke-width="1.1"/><line x1="812.8" y1="303.6" x2="812.8" y2="316.7" stroke="#000000" stroke-width="1.1"/><rect x="810.35" y="308.5" width="4.9" height="3.1" fill="#000000"/></g>
<rect x="50.6" y="35.3" width="770.0" height="470.8" fill="none" stroke="#ababab" stroke-width="1"/>
<line x1="50.6" y1="157.8" x2="820.6" y2="157.8" stroke="#ababab" stroke-width="1.2"/>
<g><line x1="820.6" y1="503.6" x2="822.4" y2="503.6" stroke="#b0b0b0" stroke-width="0.8"/><line x1="820.6" y1="499.2" x2="822.4" y2="499.2" stroke="#b0b0b0" stroke-width="0.8"/><line x1="820.6" y1="494.7" x2="823.6" y2="494.7" stroke="#b0b0b0" stroke-width="0.8"/><line x1="820.6" y1="490.3" x2="822.4" y2="490.3" stroke="#b0b0b0" stroke-width="0.8"/><line x1="820.6" y1="485.9" x2="822.4" y2="485.9" stroke="#b0b0b0" stroke-width="0.8"/><line x1="820.6" y1="481.5" x2="822.4" y2="481.5" stroke="#b0b0b0" stroke-width="0.8"/><line x1="820.6" y1="477.2" x2="822.4" y2="477.2" stroke="#b0b0b0" stroke-width="0.8"/><line x1="820.6" y1="472.8" x2="823.6" y2="472.8" stroke="#b0b0b0" stroke-width="0.8"/><line x1="820.6" y1="468.5" x2="822.4" y2="468.5" stroke="#b0b0b0" stroke-width="0.8"/><line x1="820.6" y1="464.1" x2="822.4" y2="464.1" stroke="#b0b0b0" stroke-width="0.8"/><line x1="820.6" y1="459.8" x2="822.4" y2="459.8" stroke="#b0b0b0" stroke-width="0.8"/><line x1="820.6" y1="455.5" x2="822.4" y2="455.5" stroke="#b0b0b0" stroke-width="0.8"/><line x1="820.6" y1="451.2" x2="823.6" y2="451.2" stroke="#b0b0b0" stroke-width="0.8"/><line x1="820.6" y1="446.9" x2="822.4" y2="446.9" stroke="#b0b0b0" stroke-width="0.8"/><line x1="820.6" y1="442.7" x2="822.4" y2="442.7" stroke="#b0b0b0" stroke-width="0.8"/><line x1="820.6" y1="438.4" x2="822.4" y2="438.4" stroke="#b0b0b0" stroke-width="0.8"/><line x1="820.6" y1="434.1" x2="822.4" y2="434.1" stroke="#b0b0b0" stroke-width="0.8"/><line x1="820.6" y1="429.9" x2="823.6" y2="429.9" stroke="#b0b0b0" stroke-width="0.8"/><line x1="820.6" y1="425.7" x2="822.4" y2="425.7" stroke="#b0b0b0" stroke-width="0.8"/><line x1="820.6" y1="421.5" x2="822.4" y2="421.5" stroke="#b0b0b0" stroke-width="0.8"/><line x1="820.6" y1="417.3" x2="822.4" y2="417.3" stroke="#b0b0b0" stroke-width="0.8"/><line x1="820.6" y1="413.1" x2="822.4" y2="413.1" stroke="#b0b0b0" stroke-width="0.8"/><line x1="820.6" y1="408.9" x2="823.6" y2="408.9" stroke="#b0b0b0" stroke-width="0.8"/><line x1="820.6" y1="404.8" x2="822.4" y2="404.8" stroke="#b0b0b0" stroke-width="0.8"/><line x1="820.6" y1="400.6" x2="822.4" y2="400.6" stroke="#b0b0b0" stroke-width="0.8"/><line x1="820.6" y1="396.5" x2="822.4" y2="396.5" stroke="#b0b0b0" stroke-width="0.8"/><line x1="820.6" y1="392.3" x2="822.4" y2="392.3" stroke="#b0b0b0" stroke-width="0.8"/><line x1="820.6" y1="388.2" x2="823.6" y2="388.2" stroke="#b0b0b0" stroke-width="0.8"/><line x1="820.6" y1="384.1" x2="822.4" y2="384.1" stroke="#b0b0b0" stroke-width="0.8"/><line x1="820.6" y1="380.0" x2="822.4" y2="380.0" stroke="#b0b0b0" stroke-width="0.8"/><line x1="820.6" y1="375.9" x2="822.4" y2="375.9" stroke="#b0b0b0" stroke-width="0.8"/><line x1="820.6" y1="371.9" x2="822.4" y2="371.9" stroke="#b0b0b0" stroke-width="0.8"/><line x1="820.6" y1="367.8" x2="823.6" y2="367.8" stroke="#b0b0b0" stroke-width="0.8"/><line x1="820.6" y1="363.8" x2="822.4" y2="363.8" stroke="#b0b0b0" stroke-width="0.8"/><line x1="820.6" y1="359.7" x2="822.4" y2="359.7" stroke="#b0b0b0" stroke-width="0.8"/><line x1="820.6" y1="355.7" x2="822.4" y2="355.7" stroke="#b0b0b0" stroke-width="0.8"/><line x1="820.6" y1="351.7" x2="822.4" y2="351.7" stroke="#b0b0b0" stroke-width="0.8"/><line x1="820.6" y1="347.7" x2="823.6" y2="347.7" stroke="#b0b0b0" stroke-width="0.8"/><line x1="820.6" y1="343.7" x2="822.4" y2="343.7" stroke="#b0b0b0" stroke-width="0.8"/><line x1="820.6" y1="339.7" x2="822.4" y2="339.7" stroke="#b0b0b0" stroke-width="0.8"/><line x1="820.6" y1="335.7" x2="822.4" y2="335.7" stroke="#b0b0b0" stroke-width="0.8"/><line x1="820.6" y1="331.8" x2="822.4" y2="331.8" stroke="#b0b0b0" stroke-width="0.8"/><line x1="820.6" y1="327.8" x2="823.6" y2="327.8" stroke="#b0b0b0" stroke-width="0.8"/><line x1="820.6" y1="323.9" x2="822.4" y2="323.9" stroke="#b0b0b0" stroke-width="0.8"/><line x1="820.6" y1="319.9" x2="822.4" y2="319.9" stroke="#b0b0b0" stroke-width="0.8"/><line x1="820.6" y1="316.0" x2="822.4" y2="316.0" stroke="#b0b0b0" stroke-width="0.8"/><line x1="820.6" y1="312.1" x2="822.4" y2="312.1" stroke="#b0b0b0" stroke-width="0.8"/><line x1="820.6" y1="308.2" x2="823.6" y2="308.2" stroke="#b0b0b0" stroke-width="0.8"/><line x1="820.6" y1="304.3" x2="822.4" y2="304.3" stroke="#b0b0b0" stroke-width="0.8"/><line x1="820.6" y1="300.4" x2="822.4" y2="300.4" stroke="#b0b0b0" stroke-width="0.8"/><line x1="820.6" y1="296.6" x2="822.4" y2="296.6" stroke="#b0b0b0" stroke-width="0.8"/><line x1="820.6" y1="292.7" x2="822.4" y2="292.7" stroke="#b0b0b0" stroke-width="0.8"/><line x1="820.6" y1="288.9" x2="823.6" y2="288.9" stroke="#b0b0b0" stroke-width="0.8"/><line x1="820.6" y1="285.0" x2="822.4" y2="285.0" stroke="#b0b0b0" stroke-width="0.8"/><line x1="820.6" y1="281.2" x2="822.4" y2="281.2" stroke="#b0b0b0" stroke-width="0.8"/><line x1="820.6" y1="277.4" x2="822.4" y2="277.4" stroke="#b0b0b0" stroke-width="0.8"/><line x1="820.6" y1="273.6" x2="822.4" y2="273.6" stroke="#b0b0b0" stroke-width="0.8"/><line x1="820.6" y1="269.8" x2="823.6" y2="269.8" stroke="#b0b0b0" stroke-width="0.8"/><line x1="820.6" y1="266.0" x2="822.4" y2="266.0" stroke="#b0b0b0" stroke-width="0.8"/><line x1="820.6" y1="262.2" x2="822.4" y2="262.2" stroke="#b0b0b0" stroke-width="0.8"/><line x1="820.6" y1="258.4" x2="822.4" y2="258.4" stroke="#b0b0b0" stroke-width="0.8"/><line x1="820.6" y1="254.7" x2="822.4" y2="254.7" stroke="#b0b0b0" stroke-width="0.8"/><line x1="820.6" y1="250.9" x2="823.6" y2="250.9" stroke="#b0b0b0" stroke-width="0.8"/><line x1="820.6" y1="247.2" x2="822.4" y2="247.2" stroke="#b0b0b0" stroke-width="0.8"/><line x1="820.6" y1="243.4" x2="822.4" y2="243.4" stroke="#b0b0b0" stroke-width="0.8"/><line x1="820.6" y1="239.7" x2="822.4" y2="239.7" stroke="#b0b0b0" stroke-width="0.8"/><line x1="820.6" y1="236.0" x2="822.4" y2="236.0" stroke="#b0b0b0" stroke-width="0.8"/><line x1="820.6" y1="232.3" x2="823.6" y2="232.3" stroke="#b0b0b0" stroke-width="0.8"/><line x1="820.6" y1="228.6" x2="822.4" y2="228.6" stroke="#b0b0b0" stroke-width="0.8"/><line x1="820.6" y1="224.9" x2="822.4" y2="224.9" stroke="#b0b0b0" stroke-width="0.8"/><line x1="820.6" y1="221.2" x2="822.4" y2="221.2" stroke="#b0b0b0" stroke-width="0.8"/><line x1="820.6" y1="217.6" x2="822.4" y2="217.6" stroke="#b0b0b0" stroke-width="0.8"/><line x1="820.6" y1="213.9" x2="823.6" y2="213.9" stroke="#b0b0b0" stroke-width="0.8"/><line x1="820.6" y1="210.2" x2="822.4" y2="210.2" stroke="#b0b0b0" stroke-width="0.8"/><line x1="820.6" y1="206.6" x2="822.4" y2="206.6" stroke="#b0b0b0" stroke-width="0.8"/><line x1="820.6" y1="203.0" x2="822.4" y2="203.0" stroke="#b0b0b0" stroke-width="0.8"/><line x1="820.6" y1="199.4" x2="822.4" y2="199.4" stroke="#b0b0b0" stroke-width="0.8"/><line x1="820.6" y1="195.7" x2="823.6" y2="195.7" stroke="#b0b0b0" stroke-width="0.8"/><line x1="820.6" y1="192.1" x2="822.4" y2="192.1" stroke="#b0b0b0" stroke-width="0.8"/><line x1="820.6" y1="188.5" x2="822.4" y2="188.5" stroke="#b0b0b0" stroke-width="0.8"/><line x1="820.6" y1="184.9" x2="822.4" y2="184.9" stroke="#b0b0b0" stroke-width="0.8"/><line x1="820.6" y1="181.4" x2="822.4" y2="181.4" stroke="#b0b0b0" stroke-width="0.8"/><line x1="820.6" y1="177.8" x2="823.6" y2="177.8" stroke="#b0b0b0" stroke-width="0.8"/><line x1="820.6" y1="174.2" x2="822.4" y2="174.2" stroke="#b0b0b0" stroke-width="0.8"/><line x1="820.6" y1="170.7" x2="822.4" y2="170.7" stroke="#b0b0b0" stroke-width="0.8"/><line x1="820.6" y1="167.1" x2="822.4" y2="167.1" stroke="#b0b0b0" stroke-width="0.8"/><line x1="820.6" y1="163.6" x2="822.4" y2="163.6" stroke="#b0b0b0" stroke-width="0.8"/><line x1="820.6" y1="160.1" x2="823.6" y2="160.1" stroke="#b0b0b0" stroke-width="0.8"/><line x1="820.6" y1="149.5" x2="822.4" y2="149.5" stroke="#b0b0b0" stroke-width="0.8"/><line x1="820.6" y1="144.1" x2="822.4" y2="144.1" stroke="#b0b0b0" stroke-width="0.8"/><line x1="820.6" y1="139.2" x2="823.6" y2="139.2" stroke="#b0b0b0" stroke-width="0.8"/><line x1="820.6" y1="133.7" x2="822.4" y2="133.7" stroke="#b0b0b0" stroke-width="0.8"/><line x1="820.6" y1="128.6" x2="822.4" y2="128.6" stroke="#b0b0b0" stroke-width="0.8"/><line x1="820.6" y1="123.3" x2="822.4" y2="123.3" stroke="#b0b0b0" stroke-width="0.8"/><line x1="820.6" y1="117.8" x2="823.6" y2="117.8" stroke="#b0b0b0" stroke-width="0.8"/><line x1="820.6" y1="112.9" x2="822.4" y2="112.9" stroke="#b0b0b0" stroke-width="0.8"/><line x1="820.6" y1="107.7" x2="822.4" y2="107.7" stroke="#b0b0b0" stroke-width="0.8"/><line x1="820.6" y1="102.5" x2="822.4" y2="102.5" stroke="#b0b0b0" stroke-width="0.8"/><line x1="820.6" y1="96.7" x2="823.6" y2="96.7" stroke="#b0b0b0" stroke-width="0.8"/><line x1="820.6" y1="92.1" x2="822.4" y2="92.1" stroke="#b0b0b0" stroke-width="0.8"/><line x1="820.6" y1="86.6" x2="822.4" y2="86.6" stroke="#b0b0b0" stroke-width="0.8"/><line x1="820.6" y1="81.7" x2="822.4" y2="81.7" stroke="#b0b0b0" stroke-width="0.8"/><line x1="820.6" y1="76.6" x2="823.6" y2="76.6" stroke="#b0b0b0" stroke-width="0.8"/><line x1="820.6" y1="71.3" x2="822.4" y2="71.3" stroke="#b0b0b0" stroke-width="0.8"/><line x1="820.6" y1="65.9" x2="822.4" y2="65.9" stroke="#b0b0b0" stroke-width="0.8"/><line x1="820.6" y1="60.9" x2="822.4" y2="60.9" stroke="#b0b0b0" stroke-width="0.8"/><line x1="820.6" y1="55.7" x2="823.6" y2="55.7" stroke="#b0b0b0" stroke-width="0.8"/><line x1="820.6" y1="50.5" x2="822.4" y2="50.5" stroke="#b0b0b0" stroke-width="0.8"/><line x1="820.6" y1="45.3" x2="822.4" y2="45.3" stroke="#b0b0b0" stroke-width="0.8"/><line x1="47.6" y1="488.0" x2="50.6" y2="488.0" stroke="#b0b0b0" stroke-width="0.8"/><line x1="47.6" y1="471.2" x2="50.6" y2="471.2" stroke="#b0b0b0" stroke-width="0.8"/><line x1="47.6" y1="454.4" x2="50.6" y2="454.4" stroke="#b0b0b0" stroke-width="0.8"/><line x1="47.6" y1="437.6" x2="50.6" y2="437.6" stroke="#b0b0b0" stroke-width="0.8"/><line x1="47.6" y1="420.8" x2="50.6" y2="420.8" stroke="#b0b0b0" stroke-width="0.8"/><line x1="47.6" y1="404.0" x2="50.6" y2="404.0" stroke="#b0b0b0" stroke-width="0.8"/><line x1="53.4" y1="523.5" x2="53.4" y2="526" stroke="#e2e2e2" stroke-width="1"/><line x1="78.9" y1="523.5" x2="78.9" y2="526" stroke="#e2e2e2" stroke-width="1"/><line x1="104.4" y1="523.5" x2="104.4" y2="526" stroke="#e2e2e2" stroke-width="1"/><line x1="129.9" y1="523.5" x2="129.9" y2="526" stroke="#e2e2e2" stroke-width="1"/><line x1="155.4" y1="523.5" x2="155.4" y2="526" stroke="#e2e2e2" stroke-width="1"/><line x1="165.6" y1="523.5" x2="165.6" y2="526" stroke="#e2e2e2" stroke-width="1"/><line x1="175.8" y1="523.5" x2="175.8" y2="526" stroke="#e2e2e2" stroke-width="1"/><line x1="201.3" y1="523.5" x2="201.3" y2="526" stroke="#e2e2e2" stroke-width="1"/><line x1="226.8" y1="523.5" x2="226.8" y2="526" stroke="#e2e2e2" stroke-width="1"/><line x1="252.3" y1="523.5" x2="252.3" y2="526" stroke="#e2e2e2" stroke-width="1"/><line x1="277.8" y1="523.5" x2="277.8" y2="526" stroke="#e2e2e2" stroke-width="1"/><line x1="303.3" y1="523.5" x2="303.3" y2="526" stroke="#e2e2e2" stroke-width="1"/><line x1="328.8" y1="523.5" x2="328.8" y2="526" stroke="#e2e2e2" stroke-width="1"/><line x1="354.3" y1="523.5" x2="354.3" y2="526" stroke="#e2e2e2" stroke-width="1"/><line x1="379.8" y1="523.5" x2="379.8" y2="526" stroke="#e2e2e2" stroke-width="1"/><line x1="384.9" y1="523.5" x2="384.9" y2="526" stroke="#e2e2e2" stroke-width="1"/><line x1="405.3" y1="523.5" x2="405.3" y2="526" stroke="#e2e2e2" stroke-width="1"/><line x1="425.7" y1="523.5" x2="425.7" y2="526" stroke="#e2e2e2" stroke-width="1"/><line x1="451.2" y1="523.5" x2="451.2" y2="526" stroke="#e2e2e2" stroke-width="1"/><line x1="476.7" y1="523.5" x2="476.7" y2="526" stroke="#e2e2e2" stroke-width="1"/><line x1="492.0" y1="523.5" x2="492.0" y2="526" stroke="#e2e2e2" stroke-width="1"/><line x1="502.2" y1="523.5" x2="502.2" y2="526" stroke="#e2e2e2" stroke-width="1"/><line x1="527.7" y1="523.5" x2="527.7" y2="526" stroke="#e2e2e2" stroke-width="1"/><line x1="553.2" y1="523.5" x2="553.2" y2="526" stroke="#e2e2e2" stroke-width="1"/><line x1="578.7" y1="523.5" x2="578.7" y2="526" stroke="#e2e2e2" stroke-width="1"/><line x1="604.2" y1="523.5" x2="604.2" y2="526" stroke="#e2e2e2" stroke-width="1"/><line x1="629.7" y1="523.5" x2="629.7" y2="526" stroke="#e2e2e2" stroke-width="1"/><line x1="655.2" y1="523.5" x2="655.2" y2="526" stroke="#e2e2e2" stroke-width="1"/><line x1="680.7" y1="523.5" x2="680.7" y2="526" stroke="#e2e2e2" stroke-width="1"/><line x1="701.1" y1="523.5" x2="701.1" y2="526" stroke="#e2e2e2" stroke-width="1"/><line x1="706.2" y1="523.5" x2="706.2" y2="526" stroke="#e2e2e2" stroke-width="1"/><line x1="726.6" y1="523.5" x2="726.6" y2="526" stroke="#e2e2e2" stroke-width="1"/><line x1="752.1" y1="523.5" x2="752.1" y2="526" stroke="#e2e2e2" stroke-width="1"/><line x1="777.6" y1="523.5" x2="777.6" y2="526" stroke="#e2e2e2" stroke-width="1"/><line x1="798.0" y1="523.5" x2="798.0" y2="526" stroke="#e2e2e2" stroke-width="1"/></g>
<line x1="695.6" y1="35" x2="695.6" y2="506.1" stroke="#000" stroke-width="1.35" stroke-dasharray="5,2.5"/>
<text transform="translate(50.6,17.1) scale(0.84,1)" font-size="16.8" font-weight="bold" textLength="63.9" lengthAdjust="spacing">$GOLD</text>
<text x="109.4" y="15.8" font-size="12" fill="#000" textLength="202.2" lengthAdjust="spacing" stroke="#000" stroke-width="0.2">Gold - Continuous Contract (EOD)</text>
<text x="318.2" y="15.8" font-size="10" fill="#000" textLength="26.7" lengthAdjust="spacing" stroke="#000" stroke-width="0.2">CME</text>
<text x="708.5" y="15.4" font-size="10.5" fill="#444" stroke="#444" stroke-width="0.3">&#169;</text>
<text x="720.5" y="15.6" font-size="12" fill="#444" textLength="99.3" lengthAdjust="spacing" stroke="#444" stroke-width="0.25">StockCharts.com</text>
<text x="50" y="32.6" font-size="12" fill="#000" textLength="74.9" lengthAdjust="spacing" stroke="#000" stroke-width="0.2">31-Dec-2020</text>
<text x="207.2" y="32.5" font-size="13" fill="#000" font-weight="bold" textLength="35.7" lengthAdjust="spacing" stroke="#000" stroke-width="0.35">Open</text>
<text x="248.8" y="32.5" font-size="12" fill="#000" textLength="45.6" lengthAdjust="spacing" stroke="#000" stroke-width="0.2">1899.00</text>
<text x="303.5" y="32.5" font-size="13" fill="#000" font-weight="bold" textLength="29.4" lengthAdjust="spacing" stroke="#000" stroke-width="0.35">High</text>
<text x="339" y="32.5" font-size="12" fill="#000" textLength="46" lengthAdjust="spacing" stroke="#000" stroke-width="0.2">1904.90</text>
<text x="393.4" y="32.5" font-size="13" fill="#000" font-weight="bold" textLength="28.8" lengthAdjust="spacing" stroke="#000" stroke-width="0.35">Low</text>
<text x="428.8" y="32.5" font-size="12" fill="#000" textLength="46.0" lengthAdjust="spacing" stroke="#000" stroke-width="0.2">1889.10</text>
<text x="483.4" y="32.5" font-size="13" fill="#000" font-weight="bold" textLength="39.2" lengthAdjust="spacing" stroke="#000" stroke-width="0.35">Close</text>
<text x="528.1" y="32.5" font-size="12" fill="#000" textLength="46.5" lengthAdjust="spacing" stroke="#000" stroke-width="0.2">1895.10</text>
<text x="583.9" y="32.5" font-size="13" fill="#000" font-weight="bold" textLength="52.3" lengthAdjust="spacing" stroke="#000" stroke-width="0.35">Volume</text>
<text x="643.1" y="32.5" font-size="12" fill="#000" textLength="34.7" lengthAdjust="spacing" stroke="#000" stroke-width="0.2">12.8M</text>
<text x="686.3" y="32.5" font-size="13" fill="#000" font-weight="bold" textLength="26.2" lengthAdjust="spacing" stroke="#000" stroke-width="0.35">Chg</text>
<text x="717.5" y="32.5" font-size="12" fill="#000" textLength="91.0" lengthAdjust="spacing" stroke="#000" stroke-width="0.2">+1.70 (+0.09%)</text>
<polygon points="811.5,31.4 819.8,31.4 815.65,26.4" fill="#2e7d32"/>
<path d="M54.2,48.3 L54.2,46.5 L58.8,38.3 L61.4,43.2 L64.2,40.2 L64.9,41 L64.9,48.3 Z" fill="#7a9c7c"/><path d="M54.2,47.5 L54.2,46.5 L58.8,38.3 L61.4,43.2 L64.2,40.2 L64.9,41 L64.9,47.5" fill="none" stroke="#111" stroke-width="1.2" stroke-linejoin="round"/>
<text transform="translate(69.4,48.3) scale(1.07,1)" font-size="12" textLength="91.6" lengthAdjust="spacing" stroke="#000" stroke-width="0.25">RSI(14) 58.80</text>
<text x="824.6" y="58.8" font-size="12" fill="#000" textLength="14.3" lengthAdjust="spacing" stroke="#000" stroke-width="0.2">90</text>
<text x="824.6" y="79.7" font-size="12" fill="#000" textLength="14.3" lengthAdjust="spacing" stroke="#000" stroke-width="0.2">70</text>
<text x="824.6" y="99.8" font-size="12" fill="#000" textLength="14.3" lengthAdjust="spacing" stroke="#000" stroke-width="0.2">50</text>
<text x="824.6" y="120.9" font-size="12" fill="#000" textLength="14.3" lengthAdjust="spacing" stroke="#000" stroke-width="0.2">30</text>
<text x="824.6" y="142.3" font-size="12" fill="#000" textLength="14.3" lengthAdjust="spacing" stroke="#000" stroke-width="0.2">10</text>
<rect x="51.2" y="158.3" width="245" height="15.5" fill="#fff"/>
<g stroke="#000" stroke-width="1.1" fill="#fff"><line x1="55.6" y1="160.8" x2="55.6" y2="169.8"/><rect x="54.4" y="162.2" width="2.5" height="5"/><rect x="57.6" y="164.6" width="3.6" height="5.2" fill="#000"/><line x1="59.4" y1="169" x2="59.4" y2="170.8"/><line x1="63.4" y1="160.8" x2="63.4" y2="170.8"/><rect x="62.1" y="162.2" width="2.6" height="7.6"/></g>
<text transform="translate(69.4,171.3) scale(1.07,1)" font-size="12" textLength="210.6" lengthAdjust="spacing" stroke="#000" stroke-width="0.25">$GOLD (Daily) 1895.10 (31 Dec)</text>
<line x1="54" y1="180.2" x2="64.8" y2="180.2" stroke="#2222a8" stroke-width="2"/>
<text x="66.9" y="184.1" font-size="11.5" fill="#1c1c9c" textLength="85.7" lengthAdjust="spacing" stroke="#1c1c9c" stroke-width="0.3">MA(50) 1870.27</text>
<line x1="54" y1="193.7" x2="64.8" y2="193.7" stroke="#d4002a" stroke-width="2"/>
<text x="66.9" y="197.9" font-size="11.5" fill="#d4002a" textLength="92.2" lengthAdjust="spacing" stroke="#d4002a" stroke-width="0.3">MA(200) 1830.92</text>
<g fill="#555"><rect x="54" y="207" width="2" height="4.5"/><rect x="56.6" y="204.5" width="2" height="7"/><rect x="59.2" y="203" width="2" height="8.5"/><rect x="61.8" y="205" width="2" height="6.5"/></g>
<text x="67.2" y="211.1" font-size="11.5" fill="#444" textLength="102.2" lengthAdjust="spacing" stroke="#444" stroke-width="0.2">Volume 12,832,600</text>
<text x="824.6" y="497.9" font-size="12" fill="#000" textLength="29.4" lengthAdjust="spacing" stroke="#000" stroke-width="0.2">1675</text>
<text x="824.6" y="476.0" font-size="12" fill="#000" textLength="29.4" lengthAdjust="spacing" stroke="#000" stroke-width="0.2">1700</text>
<text x="824.6" y="454.4" font-size="12" fill="#000" textLength="29.4" lengthAdjust="spacing" stroke="#000" stroke-width="0.2">1725</text>
<text x="824.6" y="433.1" font-size="12" fill="#000" textLength="29.4" lengthAdjust="spacing" stroke="#000" stroke-width="0.2">1750</text>
<text x="824.6" y="412.1" font-size="12" fill="#000" textLength="29.4" lengthAdjust="spacing" stroke="#000" stroke-width="0.2">1775</text>
<text x="824.6" y="391.4" font-size="12" fill="#000" textLength="29.4" lengthAdjust="spacing" stroke="#000" stroke-width="0.2">1800</text>
<text x="824.6" y="371.0" font-size="12" fill="#000" textLength="29.4" lengthAdjust="spacing" stroke="#000" stroke-width="0.2">1825</text>
<text x="824.6" y="350.9" font-size="12" fill="#000" textLength="29.4" lengthAdjust="spacing" stroke="#000" stroke-width="0.2">1850</text>
<text x="824.6" y="331.0" font-size="12" fill="#000" textLength="29.4" lengthAdjust="spacing" stroke="#000" stroke-width="0.2">1875</text>
<text x="824.6" y="311.4" font-size="12" fill="#000" textLength="29.4" lengthAdjust="spacing" stroke="#000" stroke-width="0.2">1900</text>
<text x="824.6" y="292.1" font-size="12" fill="#000" textLength="29.4" lengthAdjust="spacing" stroke="#000" stroke-width="0.2">1925</text>
<text x="824.6" y="273.0" font-size="12" fill="#000" textLength="29.4" lengthAdjust="spacing" stroke="#000" stroke-width="0.2">1950</text>
<text x="824.6" y="254.1" font-size="12" fill="#000" textLength="29.4" lengthAdjust="spacing" stroke="#000" stroke-width="0.2">1975</text>
<text x="824.6" y="235.5" font-size="12" fill="#000" textLength="29.4" lengthAdjust="spacing" stroke="#000" stroke-width="0.2">2000</text>
<text x="824.6" y="217.1" font-size="12" fill="#000" textLength="29.4" lengthAdjust="spacing" stroke="#000" stroke-width="0.2">2025</text>
<text x="824.6" y="198.9" font-size="12" fill="#000" textLength="29.4" lengthAdjust="spacing" stroke="#000" stroke-width="0.2">2050</text>
<text x="824.6" y="181.0" font-size="12" fill="#000" textLength="29.4" lengthAdjust="spacing" stroke="#000" stroke-width="0.2">2075</text>
<text x="46.6" y="491.3" font-size="12" fill="#000" text-anchor="end" textLength="25.6" lengthAdjust="spacing" stroke="#000" stroke-width="0.2">10M</text>
<text x="46.6" y="474.5" font-size="12" fill="#000" text-anchor="end" textLength="25.6" lengthAdjust="spacing" stroke="#000" stroke-width="0.2">20M</text>
<text x="46.6" y="457.7" font-size="12" fill="#000" text-anchor="end" textLength="25.6" lengthAdjust="spacing" stroke="#000" stroke-width="0.2">30M</text>
<text x="46.6" y="440.9" font-size="12" fill="#000" text-anchor="end" textLength="25.6" lengthAdjust="spacing" stroke="#000" stroke-width="0.2">40M</text>
<text x="46.6" y="424.1" font-size="12" fill="#000" text-anchor="end" textLength="25.6" lengthAdjust="spacing" stroke="#000" stroke-width="0.2">50M</text>
<text x="46.6" y="407.3" font-size="12" fill="#000" text-anchor="end" textLength="25.6" lengthAdjust="spacing" stroke="#000" stroke-width="0.2">60M</text>
<text x="53.0" y="519.3" font-size="13.8" fill="#000" font-weight="bold" text-anchor="middle" stroke="#000" stroke-width="0.2">Jun</text>
<text x="165.2" y="519.3" font-size="13.8" fill="#000" font-weight="bold" text-anchor="middle" stroke="#000" stroke-width="0.2">Jul</text>
<text x="277.4" y="519.3" font-size="13.8" fill="#000" font-weight="bold" text-anchor="middle" stroke="#000" stroke-width="0.2">Aug</text>
<text x="384.5" y="519.3" font-size="13.8" fill="#000" font-weight="bold" text-anchor="middle" stroke="#000" stroke-width="0.2">Sep</text>
<text x="491.6" y="519.3" font-size="13.8" fill="#000" font-weight="bold" text-anchor="middle" stroke="#000" stroke-width="0.2">Oct</text>
<text x="603.8" y="519.3" font-size="13.8" fill="#000" font-weight="bold" text-anchor="middle" stroke="#000" stroke-width="0.2">Nov</text>
<text x="705.8" y="519.3" font-size="13.8" fill="#000" font-weight="bold" text-anchor="middle" stroke="#000" stroke-width="0.2">Dec</text>
<text x="77.9" y="519.2" font-size="12" fill="#000" text-anchor="middle" stroke="#000" stroke-width="0.2">8</text>
<text x="103.4" y="519.2" font-size="12" fill="#000" text-anchor="middle" stroke="#000" stroke-width="0.2">15</text>
<text x="128.9" y="519.2" font-size="12" fill="#000" text-anchor="middle" stroke="#000" stroke-width="0.2">22</text>
<text x="200.3" y="519.2" font-size="12" fill="#000" text-anchor="middle" stroke="#000" stroke-width="0.2">13</text>
<text x="225.8" y="519.2" font-size="12" fill="#000" text-anchor="middle" stroke="#000" stroke-width="0.2">20</text>
<text x="251.3" y="519.2" font-size="12" fill="#000" text-anchor="middle" stroke="#000" stroke-width="0.2">27</text>
<text x="302.3" y="519.2" font-size="12" fill="#000" text-anchor="middle" stroke="#000" stroke-width="0.2">10</text>
<text x="327.8" y="519.2" font-size="12" fill="#000" text-anchor="middle" stroke="#000" stroke-width="0.2">17</text>
<text x="353.3" y="519.2" font-size="12" fill="#000" text-anchor="middle" stroke="#000" stroke-width="0.2">24</text>
<text x="404.3" y="519.2" font-size="12" fill="#000" text-anchor="middle" stroke="#000" stroke-width="0.2">8</text>
<text x="424.7" y="519.2" font-size="12" fill="#000" text-anchor="middle" stroke="#000" stroke-width="0.2">14</text>
<text x="450.2" y="519.2" font-size="12" fill="#000" text-anchor="middle" stroke="#000" stroke-width="0.2">21</text>
<text x="526.7" y="519.2" font-size="12" fill="#000" text-anchor="middle" stroke="#000" stroke-width="0.2">12</text>
<text x="552.2" y="519.2" font-size="12" fill="#000" text-anchor="middle" stroke="#000" stroke-width="0.2">19</text>
<text x="577.7" y="519.2" font-size="12" fill="#000" text-anchor="middle" stroke="#000" stroke-width="0.2">26</text>
<text x="628.7" y="519.2" font-size="12" fill="#000" text-anchor="middle" stroke="#000" stroke-width="0.2">9</text>
<text x="654.2" y="519.2" font-size="12" fill="#000" text-anchor="middle" stroke="#000" stroke-width="0.2">16</text>
<text x="679.7" y="519.2" font-size="12" fill="#000" text-anchor="middle" stroke="#000" stroke-width="0.2">23</text>
<text x="725.6" y="519.2" font-size="12" fill="#000" text-anchor="middle" stroke="#000" stroke-width="0.2">7</text>
<text x="751.1" y="519.2" font-size="12" fill="#000" text-anchor="middle" stroke="#000" stroke-width="0.2">14</text>
<text x="776.6" y="519.2" font-size="12" fill="#000" text-anchor="middle" stroke="#000" stroke-width="0.2">21</text>
<text x="797.0" y="519.2" font-size="12" fill="#000" text-anchor="middle" stroke="#000" stroke-width="0.2">28</text>
</g>
<rect x="61.5" y="125" width="270" height="32" fill="#b4b4b4"/>
<rect x="59.5" y="122.8" width="270" height="32" fill="#fff" stroke="#888" stroke-width="1"/>
<line x1="120.6" y1="122.8" x2="120.6" y2="154.8" stroke="#888" stroke-width="1"/>
<text x="63.7" y="145.9" font-size="20" fill="#f7931e" font-weight="bold" textLength="44.2" lengthAdjust="spacing" >Gold</text>
<text x="124.1" y="145.9" font-size="20" fill="#000" font-weight="bold" textLength="183.2" lengthAdjust="spacing" >PriceForecast.com</text>
</svg>
</body></html>
